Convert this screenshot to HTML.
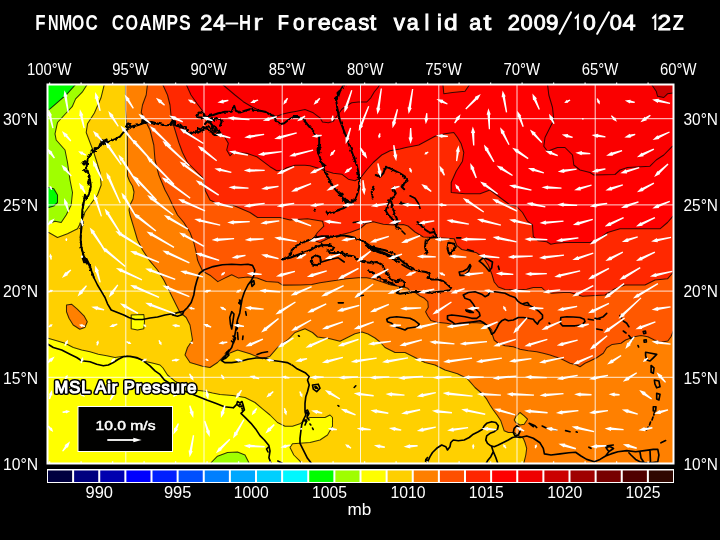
<!DOCTYPE html><html><head><meta charset="utf-8"><title>FNMOC COAMPS</title>
<style>html,body{margin:0;padding:0;background:#000;overflow:hidden}svg{display:block}text{font-family:"Liberation Sans",sans-serif;fill:#fff}</style></head><body>
<svg width="720" height="540" viewBox="0 0 720 540">
<rect width="720" height="540" fill="#000"/>
<defs><clipPath id="mc"><rect x="47" y="84" width="627" height="380"/></clipPath></defs>
<g clip-path="url(#mc)">
<rect x="40" y="60" width="660" height="420" fill="#a0ff00"/>
<path d="M76.1 84.0 66.7 94.4 57.8 102.2 50.0 108.9 40.0 114.0 40.0 60.0 76.0 60.0Z" fill="#00ff00" stroke="#000" stroke-opacity="0.78" stroke-width="1.05" stroke-linejoin="round"/>
<path d="M40.0 187.0 48.8 187.5 53.8 188.8 57.5 195.0 57.5 202.5 53.8 206.0 48.8 207.5 40.0 208.0Z" fill="#00ff00" stroke="#000" stroke-opacity="0.78" stroke-width="1.05" stroke-linejoin="round"/>
<path d="M87.5 84.0 82.2 92.2 75.6 98.9 72.2 106.7 66.2 113.0 57.5 122.5 55.0 133.8 56.2 140.0 65.0 150.0 67.5 162.5 70.0 180.0 72.5 192.5 71.2 205.0 66.2 215.0 61.2 222.5 55.0 221.2 48.8 223.8 40.0 224.0 40.0 480.0 700.0 480.0 700.0 60.0 87.5 60.0Z" fill="#ffff00" stroke="#000" stroke-opacity="0.78" stroke-width="1.05" stroke-linejoin="round"/>
<path d="M104.4 84.0 101.0 97.8 94.4 113.0 87.5 123.8 86.2 132.5 90.0 142.5 93.8 152.5 96.2 160.0 100.0 172.5 101.2 185.0 97.5 195.0 90.0 205.0 85.0 212.0 82.0 220.0 77.5 228.8 67.5 233.8 57.5 237.5 48.8 232.5 40.0 232.0 40.0 338.0 48.0 338.3 56.7 340.8 65.0 343.3 73.3 347.5 81.7 350.0 90.0 351.7 98.3 354.2 106.7 355.8 115.0 357.5 120.0 356.7 126.7 355.8 133.3 357.5 140.0 359.2 146.7 361.7 153.3 363.3 160.0 365.0 163.0 368.0 167.5 375.0 175.0 381.2 185.0 386.2 195.0 390.0 205.0 391.2 212.5 393.0 220.0 394.5 232.5 395.5 245.0 397.5 255.0 402.5 262.5 408.8 270.0 415.0 277.5 422.5 285.0 426.2 292.5 426.2 300.0 423.8 305.0 420.0 310.0 417.5 325.0 417.5 330.0 415.0 332.5 417.5 332.5 426.2 327.5 435.0 320.0 440.0 310.0 442.5 292.5 443.8 290.0 447.5 293.8 455.0 300.0 461.2 305.0 470.0 700.0 480.0 700.0 60.0 104.0 60.0Z" fill="#ffd000" stroke="#000" stroke-opacity="0.78" stroke-width="1.05" stroke-linejoin="round"/>
<path d="M125.5 84.0 125.5 110.0 127.3 130.0 127.5 176.0 129.5 181.0 132.5 186.0 134.0 192.0 133.0 199.0 130.0 205.0 129.0 210.0 130.0 215.0 133.8 227.5 137.5 240.0 142.5 250.0 150.0 261.2 157.5 270.0 163.8 280.0 168.8 290.0 172.5 297.5 176.2 305.0 180.0 312.5 186.2 317.5 190.0 325.0 191.2 332.0 192.5 340.0 187.5 347.5 185.0 355.0 190.0 362.5 202.5 366.2 210.0 367.5 217.5 362.5 225.0 355.0 237.5 350.0 250.0 353.8 262.5 358.8 270.0 356.2 277.5 347.5 287.5 340.0 295.0 332.5 305.0 328.8 312.5 332.5 317.5 337.0 330.0 338.8 340.0 341.2 347.5 337.5 355.0 333.8 362.0 332.0 368.0 334.0 375.0 338.0 380.0 342.0 385.0 347.5 395.0 352.5 405.0 352.5 415.0 357.5 425.0 362.5 435.0 365.0 445.0 370.0 457.5 373.8 467.5 378.8 475.0 387.5 482.5 394.0 486.7 399.2 490.0 405.0 493.3 410.0 497.5 415.8 500.8 420.8 502.5 425.8 504.2 430.8 508.3 432.5 514.0 432.5 519.0 436.0 523.3 438.3 525.0 442.5 526.7 448.3 525.8 455.0 524.2 461.7 522.5 470.0 700.0 480.0 700.0 60.0 126.0 60.0Z" fill="#ff8000" stroke="#000" stroke-opacity="0.78" stroke-width="1.05" stroke-linejoin="round"/>
<path d="M147.5 84.0 146.2 95.0 142.5 105.0 141.2 112.5 145.0 120.0 150.0 130.0 153.8 145.0 155.0 160.0 158.8 175.0 165.0 190.0 168.8 197.0 172.5 205.0 177.5 215.0 183.8 222.5 190.0 232.5 193.8 242.5 196.2 252.5 197.5 260.0 199.3 264.3 202.7 271.2 210.8 275.8 217.8 281.6 224.7 278.1 231.7 274.7 238.6 278.1 247.9 277.0 257.1 278.1 266.4 281.6 278.0 282.3 282.6 285.1 300.0 285.0 311.7 284.5 320.0 282.8 330.0 281.2 336.7 280.3 346.7 278.7 358.3 277.8 366.7 277.8 373.3 278.9 377.8 280.6 384.4 282.8 391.0 285.0 396.7 286.0 404.4 287.2 407.8 288.3 410.0 291.0 415.6 292.8 420.0 296.0 424.4 298.3 427.8 301.7 428.3 307.2 425.6 311.7 427.8 316.0 431.0 320.6 436.7 322.2 446.7 323.3 455.0 325.0 463.3 324.2 473.3 322.5 483.3 323.3 488.3 325.8 491.7 330.0 492.5 335.0 494.2 340.0 498.3 343.3 505.0 345.8 513.3 346.7 520.0 349.2 528.3 350.8 536.7 351.7 543.3 353.3 550.0 355.0 555.0 356.7 560.0 358.3 565.0 360.8 570.0 363.3 576.7 365.0 580.0 366.7 585.0 363.3 590.0 361.0 596.7 357.8 603.3 353.3 606.7 347.8 612.2 344.4 621.0 343.3 625.6 340.0 634.4 336.7 641.0 335.5 647.8 336.7 654.4 340.0 661.0 342.2 667.8 341.0 671.0 336.7 673.3 331.0 700.0 331.0 700.0 60.0 147.0 60.0Z" fill="#ff5800" stroke="#000" stroke-opacity="0.78" stroke-width="1.05" stroke-linejoin="round"/>
<path d="M162.5 84.0 167.5 95.0 170.0 105.0 171.2 117.5 175.0 130.0 178.8 142.5 182.5 152.5 187.5 162.5 197.5 172.5 203.8 178.8 205.0 190.0 210.0 200.0 220.0 205.0 232.5 205.0 250.0 212.5 257.5 217.5 280.0 217.5 290.0 220.0 307.5 218.8 322.5 221.2 323.8 226.2 317.5 232.5 312.5 240.0 320.0 242.5 330.0 237.5 340.0 235.0 350.0 232.5 360.0 228.8 366.0 223.5 373.3 221.7 383.3 224.2 393.3 225.0 403.3 224.5 408.0 226.0 415.0 232.0 423.3 237.0 438.3 237.8 454.2 238.7 456.7 245.3 461.7 249.5 470.0 251.2 476.7 252.8 483.3 257.8 488.3 265.3 491.7 273.7 494.2 282.0 498.3 287.0 505.0 289.5 516.7 290.0 526.7 289.2 533.3 287.5 541.7 287.5 545.0 290.8 551.7 293.3 563.3 292.5 570.0 292.5 582.5 296.2 605.0 295.0 615.0 288.8 625.0 285.0 645.0 285.0 655.0 280.0 667.5 278.8 673.0 272.5 700.0 272.0 700.0 60.0 162.0 60.0Z" fill="#ff2800" stroke="#000" stroke-opacity="0.78" stroke-width="1.05" stroke-linejoin="round"/>
<path d="M186.0 84.0 191.0 95.0 197.0 103.5 203.0 111.5 207.0 118.0 213.0 125.0 220.0 132.0 224.0 136.0 228.3 143.3 226.7 150.0 230.0 155.8 233.3 152.5 246.7 153.3 256.7 156.7 263.3 161.7 270.0 166.7 276.7 170.8 283.3 170.0 286.7 167.8 295.0 165.3 305.0 165.3 310.0 165.8 318.3 168.3 325.0 170.8 333.3 173.3 341.7 174.2 348.3 179.2 355.0 180.8 360.8 177.5 366.7 170.0 373.3 162.5 381.7 155.0 390.0 150.8 400.0 149.0 406.0 147.5 418.8 145.0 435.0 136.2 445.0 133.8 453.8 132.5 457.5 137.5 461.2 143.8 463.8 152.5 462.5 161.2 456.2 171.2 451.2 182.5 451.2 192.5 465.0 193.8 480.0 193.8 490.0 190.0 500.0 197.5 510.0 205.0 516.2 206.0 522.5 212.5 527.5 221.2 532.5 225.0 532.8 230.0 533.3 236.7 538.3 240.8 546.7 241.7 550.8 244.2 555.8 243.3 565.0 242.5 590.0 242.5 597.5 240.0 607.5 232.5 620.0 228.8 640.0 228.8 660.0 228.8 667.5 222.5 673.0 216.2 700.0 216.0 700.0 60.0 186.0 60.0Z" fill="#ff0000" stroke="#000" stroke-opacity="0.78" stroke-width="1.05" stroke-linejoin="round"/>
<path d="M222.0 84.0 235.0 95.0 243.3 101.7 251.7 106.7 258.3 110.0 268.0 113.0 276.0 116.5 283.0 114.0 288.3 112.8 296.7 111.2 305.0 109.5 313.3 112.8 320.0 117.8 322.5 122.0 328.3 122.8 333.3 121.2 337.5 115.3 341.7 109.5 345.8 106.2 351.7 102.8 358.3 102.0 366.7 102.0 370.8 97.8 374.2 92.0 378.3 87.0 380.0 84.0 379.0 60.0 220.0 60.0Z" fill="#fa0000" stroke="#000" stroke-opacity="0.78" stroke-width="1.05" stroke-linejoin="round"/>
<path d="M547.5 84.0 548.8 95.0 552.5 107.5 553.8 120.0 550.0 127.5 545.0 137.5 543.8 146.2 547.5 151.2 557.5 147.5 565.0 147.5 572.5 155.0 573.8 165.0 580.0 170.0 590.0 172.5 593.8 175.0 615.0 174.5 620.0 170.0 627.5 167.5 650.0 166.2 656.2 160.0 663.8 155.0 672.5 146.2 700.0 146.0 700.0 60.0 547.0 60.0Z" fill="#fa0000" stroke="#000" stroke-opacity="0.78" stroke-width="1.05" stroke-linejoin="round"/>
<path d="M651.2 84.0 656.2 91.2 657.5 96.2 663.8 97.5 667.5 93.8 673.0 93.0 700.0 93.0 700.0 60.0 651.0 60.0Z" fill="#cc0000" stroke="#000" stroke-opacity="0.78" stroke-width="1.05" stroke-linejoin="round"/>
<path d="M442.5 80.0 443.8 93.8 452.5 92.5 465.0 91.2 470.0 84.0 470.0 80.0Z" fill="#ff2800" stroke="#000" stroke-opacity="0.78" stroke-width="1.05" stroke-linejoin="round"/>
<path d="M66.5 305.0 71.5 304.2 77.3 309.2 84.0 315.8 87.3 321.7 84.8 327.5 79.8 329.2 73.2 325.0 69.0 318.3 66.5 311.7Z" fill="#ff8000" stroke="#000" stroke-opacity="0.78" stroke-width="1.05" stroke-linejoin="round"/>
<path d="M131.2 315.0 143.8 314.5 144.5 321.2 143.8 328.8 137.5 330.0 131.2 328.8Z" fill="#ffff00" stroke="#000" stroke-opacity="0.78" stroke-width="1.05" stroke-linejoin="round"/>
<path d="M211.2 470.0 211.2 462.5 217.5 456.2 227.5 452.5 237.5 452.0 245.0 455.0 248.8 462.5 249.0 470.0Z" fill="#a0ff00" stroke="#000" stroke-opacity="0.78" stroke-width="1.05" stroke-linejoin="round"/>
<path d="M515.8 416.7 520.0 412.5 524.2 415.8 527.5 419.2 524.2 424.2 520.0 425.0 515.8 422.5 514.2 420.0Z" fill="#ffd000" stroke="#000" stroke-opacity="0.78" stroke-width="1.05" stroke-linejoin="round"/>
<path d="M125.8 84V464M204.0 84V464M282.2 84V464M360.5 84V464M438.8 84V464M517.0 84V464M595.2 84V464M47 377.3H674M47 291.1H674M47 204.9H674M47 118.7H674" stroke="#fff" stroke-width="1" fill="none" opacity="0.85"/>
<defs><filter id="jag" x="-2%" y="-2%" width="104%" height="104%"><feTurbulence type="fractalNoise" baseFrequency="0.22" numOctaves="2" seed="7" result="n"/><feDisplacementMap in="SourceGraphic" in2="n" scale="3.2" xChannelSelector="R" yChannelSelector="G"/></filter><filter id="jag2" x="-2%" y="-2%" width="104%" height="104%"><feTurbulence type="fractalNoise" baseFrequency="0.3" numOctaves="1" seed="3" result="n"/><feDisplacementMap in="SourceGraphic" in2="n" scale="1.6" xChannelSelector="R" yChannelSelector="G"/></filter></defs><g filter="url(#jag2)"><path d="M410.0 195.8L415.0 198.3L418.3 203.3L420.0 208.3M402.0 231.0L405.0 234.0M456.7 237.8L460.8 237.8M467.5 249.5L473.3 251.2M459.2 272.0L463.3 271.2L467.5 268.7L470.0 264.5L470.8 266.2L468.3 272.0L464.2 275.3L460.0 275.3ZM479.2 261.2L483.3 257.8L488.3 259.5L492.5 262.0L491.7 267.8L489.2 271.2L485.8 267.0L482.5 263.7ZM498.3 266.2L499.2 269.5M353.3 222.5L358.3 221.7L363.3 223.3M402.0 264.5L407.0 267.5L412.0 270.0M321.7 262.0L330.0 259.5L338.3 257.8L344.2 262.0M338.3 302.8L343.3 302.8M358.3 296.2L363.3 295.3M386.7 319.2L390.0 317.5L396.7 316.7L403.3 317.5L410.0 318.3L415.0 320.8L419.2 324.2L417.5 326.7L412.5 327.5L407.5 328.3L405.0 330.0L400.0 328.3L395.0 326.7L391.7 323.3L387.5 321.7ZM463.3 295.0L468.3 292.5L475.0 291.7L481.7 294.2L485.0 296.7L488.3 295.0L490.0 291.7L495.0 291.7L500.0 292.5L505.0 293.3L510.0 295.8L515.0 297.5L517.5 300.8L520.8 303.3L525.0 305.0L530.0 305.8L535.0 308.3L539.2 311.7L542.5 315.0L542.5 318.3L539.2 320.8L537.5 324.2L535.0 321.7L533.3 319.2L528.3 318.3L523.3 317.5L518.3 317.5L513.3 320.0L508.3 320.8L505.0 319.2L501.7 320.8L499.2 323.3L496.7 328.3L494.2 332.5L491.7 334.2L490.0 330.0L487.5 325.8L483.3 322.5L480.0 320.8L473.3 321.7L466.7 322.5L460.0 323.3L455.0 324.2L451.7 321.7L447.5 319.2L447.5 315.8L451.7 315.0L458.3 315.8L465.0 316.7L471.7 318.3L476.7 318.3L480.0 315.8L479.2 312.5L475.8 309.2L473.3 304.2L470.0 300.0L465.0 298.3L463.3 295.0M465.8 310.0L470.0 310.8L473.3 312.5L470.0 312.5L466.7 311.3ZM523.5 303.5L527.5 302.5L529.0 304.5M560.8 317.5L566.7 316.7L573.3 317.0L580.0 317.5L584.2 319.2L585.0 321.7L581.7 325.0L575.0 325.8L568.3 325.8L562.5 325.8L560.3 323.3ZM549.0 323.0L549.8 323.6M588.3 319.2L593.3 320.0M595.0 318.3L600.0 319.2M596.7 319.0L603.3 316.7L606.7 313.3M596.7 329.0L602.2 330.0M620.0 315.5L621.5 318.0M623.3 321.0L626.7 323.3L628.9 326.7M623.3 331.0L626.0 333.0M628.9 335.5L632.2 340.0M643.2 331.5L645.4 331.0L645.8 333.2L643.8 333.6ZM644.0 340.0L646.2 339.8L646.4 342.0L644.2 342.2ZM638.0 345.5L638.6 347.0M645.6 352.2L651.1 353.3L656.7 354.4L653.3 357.8L650.0 361.0L646.7 360.0L645.6 355.5ZM651.1 365.5L654.0 367.8L653.3 373.3L651.1 372.2ZM654.4 380.0L658.9 381.0L660.0 386.7L656.7 387.8L654.9 384.0ZM656.7 393.3L660.0 394.4L658.9 400.0L656.7 399.0ZM653.3 406.7L656.0 406.7L655.6 411.0L653.3 411.0ZM654.4 412.5L653.8 415.0M653.0 417.0L652.0 420.0M650.5 422.0L649.5 425.0M648.0 427.0L646.5 430.0M661.0 442.8L665.6 440.6M520.0 437.5L526.7 436.0L533.3 438.3L540.0 442.8L543.3 448.3L544.4 453.9L551.0 455.0L560.0 453.9L568.9 452.8L575.6 452.3L581.0 456.0L586.7 459.4L594.4 461.7L600.0 459.4L605.6 456.0L611.0 453.9L617.8 451.7L626.7 450.6L635.6 451.7L644.4 450.6L653.3 449.4L657.8 449.4L658.9 455.0L657.8 461.7L651.0 462.8L644.4 462.8L640.0 461.7L635.6 459.4L631.0 455.0L628.9 452.8M605.6 456.0L609.0 451.5L613.5 448.5L610.0 446.5L606.0 447.5L608.0 450.5M605.6 446.0L613.3 445.0M640.0 452.0L641.0 458.0L644.0 462.5M650.0 450.5L650.5 462.0M530.0 424.0L533.3 426.7M542.2 426.0L546.7 428.3M553.3 429.4L556.0 430.0M565.6 430.6L570.0 431.7M576.2 431.8L577.2 432.2M588.9 447.2L591.0 448.3M529.2 423.3L535.0 425.8L536.7 427.5M426.7 464.0L430.0 456.7L432.5 452.5L436.7 448.3L441.7 445.0L445.8 446.7L447.5 450.0L450.0 446.7L450.8 442.5L453.3 440.0L458.3 440.8L464.2 440.0L469.2 437.5L473.3 434.2L478.3 431.7L482.5 429.2L484.2 425.8L486.7 423.3L491.7 421.7L495.8 422.5L498.3 425.8L497.5 429.2L494.2 431.7L490.0 433.3L486.7 435.8L485.8 440.0L487.5 443.3L490.8 445.8L494.2 446.7L498.3 445.0L503.3 442.5L508.3 440.0L512.5 437.5L515.8 436.7L520.0 437.5M491.7 446.7L493.3 451.7L490.8 456.7L487.5 460.8L485.8 464.2M493.3 451.7L495.8 457.5L497.5 462.5M513.3 432.5L514.2 428.3L516.7 425.8L519.2 427.5L520.0 431.7L518.3 435.0L515.0 435.8ZM428.0 461.0L426.0 459.5L427.5 457.5M85.0 195.0L83.8 201.2L82.5 210.0L82.0 220.0L81.2 230.0L80.5 240.0L82.0 250.0L84.5 258.8L88.8 263.8L91.2 270.0L93.8 277.5L97.5 285.0L101.2 291.2L105.0 297.5L107.5 303.8L111.2 310.0L117.5 312.5L123.8 315.0L128.8 317.5L135.0 319.5L142.5 319.5L150.0 318.0L157.5 317.0L165.0 315.0L172.5 313.8L178.8 312.5L183.8 311.2L187.5 307.5L191.2 302.5L193.8 295.0L195.0 287.5L196.9 280.5L199.3 273.5L203.9 270.0L213.1 266.6L222.4 264.7L231.7 264.3L240.9 264.7L247.9 264.3L252.5 265.4L254.8 270.0L253.7 275.8L251.3 280.5L247.9 285.0L244.4 292.0L242.1 299.0L240.9 305.9L239.8 312.9L237.5 319.8L236.3 326.8L235.1 333.7L234.0 340.6L231.7 347.6L228.2 352.2L224.7 356.9L221.3 360.3L224.7 362.6L231.7 362.6L239.8 361.5L247.9 359.2L256.0 358.0L264.1 358.0L271.0 360.3L280.3 361.5L287.2 362.6L291.9 364.9L296.5 368.4L301.1 370.7L305.7 373.1L309.2 376.5L307.5 380.0L309.2 385.0L307.5 391.7L305.8 396.7L305.0 403.3L305.0 410.0L305.8 415.0L303.3 420.0L301.7 425.0L300.8 431.7L300.0 438.3L300.0 443.3L302.5 448.3L305.0 453.3L307.5 458.3L310.8 462.5L313.0 465.0M82.5 258.0L84.0 262.5L87.5 262.0L84.5 258.8M172.5 315.0L177.5 312.5L183.8 311.2L182.5 314.5L177.5 316.2ZM251.3 282.8L253.7 280.5L254.4 283.9L252.0 286.3ZM231.7 311.7L234.0 314.0L232.8 322.0L231.7 329.0L230.5 324.4L229.8 317.5ZM245.6 311.7L246.3 315.2M237.5 332.5L238.1 339.5M243.0 336.0L242.6 339.5M239.5 300.0L241.5 301.5L240.5 304.5L238.8 303.0M237.0 322.0L238.5 326.0L236.5 330.0M233.0 336.0L235.5 338.0L233.5 343.0L231.5 341.0M257.1 354.5L261.8 352.7L267.5 351.8M298.5 335.7L299.3 336.2M221.3 360.3L226.0 358.0L229.0 355.0L226.0 353.0L229.0 350.0M312.5 385.0L318.3 384.2L320.0 388.3L316.7 391.7L313.3 389.2ZM315.0 386.5L317.5 388.5M338.0 405.5L338.8 406.2M354.2 387.5L355.8 385.8M305.0 412.0L307.5 410.0L309.0 413.5L307.0 417.0L309.0 420.0M304.0 420.0L306.5 421.5L305.0 425.0M310.0 424.0L310.8 425.0M312.5 428.0L313.2 429.5M40.0 340.0L48.0 344.2L53.3 347.5L61.7 350.0L70.0 354.2L76.7 357.5L81.7 360.8L90.0 361.7L96.7 364.2L103.3 365.8L108.3 365.0L113.3 362.5L118.3 359.2L123.3 356.7L130.0 356.3L136.7 357.5L143.3 360.8L150.0 365.8L155.0 370.8L160.0 374.4L164.4 380.0L173.3 385.6L184.4 391.0L195.6 395.6L206.7 400.0L215.6 403.3L224.4 406.7L233.3 407.8L236.7 404.4L240.0 406.7L243.3 405.6L244.4 410.0L241.0 413.3L245.6 417.8L251.0 423.3L255.6 428.9L260.0 435.6L264.4 440.0L268.9 445.6L270.0 451.0L268.9 457.8L271.0 463.3L272.0 466.0M236.7 404.4L237.5 401.5L240.0 403.0L242.0 401.5L243.3 405.6M277.8 461.0L282.2 463.3L284.0 466.0M268.5 447.0L266.5 449.0L268.0 452.0" fill="none" stroke="#000" stroke-width="1.65" stroke-linejoin="round" stroke-linecap="round"/></g><g filter="url(#jag)"><path d="M86.7 199.2L89.2 193.3L90.8 186.7L90.0 180.0L88.3 173.3L86.7 166.7L87.5 160.0L90.0 155.0L93.3 150.8L98.3 147.5L103.3 144.2L109.2 141.7L115.0 139.2L120.0 136.7L123.3 132.5L126.7 129.2L131.7 126.7L138.3 125.0L145.0 122.5L151.7 122.0L158.3 123.7L165.0 125.3L170.0 125.0L173.3 124.2L178.3 126.7L183.3 129.2L189.2 134.2L194.2 133.3L197.5 132.5L201.7 130.8L205.0 129.2L208.3 130.0L211.7 130.8L214.2 135.0L217.5 135.0L220.0 132.5L215.8 128.3L212.5 125.8L210.0 122.5L211.7 120.0L215.8 118.3L220.0 119.2L221.7 121.7L220.0 125.8M126.5 127.0L128.0 123.5L131.0 124.5L129.5 127.5M142.0 123.0L142.5 119.5L144.5 120.0L144.0 123.0M99.0 147.0L100.5 143.5L103.0 144.5M104.0 143.5L105.5 140.5L107.5 142.0M91.5 153.0L93.5 149.5L95.0 151.5M84.0 165.5L82.5 162.5L85.0 161.0L86.5 164.0M86.0 172.0L84.0 170.0L85.5 168.0M170.0 124.5L172.0 121.5L175.0 122.5L176.5 125.5L180.0 124.5L183.0 127.5L186.0 127.0L188.0 130.0M196.0 131.0L198.0 128.5L201.0 129.5L203.0 127.0L206.0 128.0L208.0 126.0L210.0 127.5M205.0 124.0L207.5 121.0L210.0 122.5M206.0 118.0L209.0 120.0L212.0 118.0L214.0 121.0M197.3 115.0L198.5 112.8L201.5 112.5L204.0 114.0L204.0 116.5L201.5 117.6L198.5 117.2ZM205.0 117.5L209.0 116.0L213.3 115.0L218.3 113.3L225.0 111.7L231.7 111.7L234.2 105.8L235.8 110.8L240.0 112.5L245.0 110.8L250.0 109.2L255.0 110.8L260.0 110.8L265.0 111.7L269.2 114.2L273.3 115.8L275.8 120.0L280.0 124.2L284.2 123.3L288.3 120.0L293.3 117.0L298.3 117.0L303.3 119.5L307.5 124.5L311.7 129.5L315.8 133.7L319.2 137.0L319.2 143.7L317.5 150.3L319.2 155.3L320.8 160.3L323.3 166.7L325.0 171.7L327.5 176.7L330.0 180.8L332.5 185.8L335.8 190.0L340.0 194.2L343.3 198.3L345.8 202.5L348.3 205.0L351.7 203.3L355.0 199.2L357.5 193.3L359.2 186.7L359.2 179.2L358.3 171.7L356.7 165.0L354.2 158.3L351.7 151.7L349.2 145.3L347.5 139.5L345.0 133.7L342.5 127.0L340.0 120.3L338.3 113.7L337.5 108.7L336.7 103.7L335.8 98.7L338.3 96.2L340.0 91.2L342.5 87.0L345.8 83.0M336.0 100.0L338.5 97.5L337.5 93.0L340.0 90.5M318.0 146.0L320.5 147.5L318.5 150.0L320.5 152.5L318.5 154.0M322.0 163.0L324.5 165.0L323.0 168.5M343.0 198.0L345.5 199.5L347.5 203.0L350.5 202.0M340.0 195.5L343.5 197.0M347.5 205.8L343.3 208.3L338.3 210.0L333.3 211.7L328.3 213.3L326.7 212.5M314.5 210.5L315.5 211.2M375.8 175.0L380.0 176.7L383.3 173.3L385.8 166.7L390.0 168.3L395.0 170.8L400.0 173.3L405.0 176.7L407.5 180.8L404.2 183.3L401.7 186.7L404.2 189.2M390.0 200.0L387.5 205.0L385.8 210.8L388.3 215.0L391.7 218.3L394.2 223.3L396.7 227.5L398.3 223.3L396.7 218.3L394.2 213.3L392.5 206.7L390.8 200.0ZM373.3 186.7L372.2 189.0M371.7 191.7L372.0 194.5M372.5 196.5L372.8 198.5M393.3 188.3L395.8 193.3L393.3 196.7L390.8 198.3M400.0 203.3L406.7 204.2L411.7 205.0M417.5 222.0L420.8 225.3L425.0 229.5L430.0 232.8L434.2 232.0L433.3 228.7L435.0 233.7L438.3 237.8L440.8 240.3M435.8 237.0L430.0 237.8L425.8 241.2L425.0 247.0L426.7 253.7M393.3 223.7L397.5 227.0L400.0 228.7M448.3 242.8L454.2 243.7L455.8 247.0L452.5 251.2L449.2 254.5L447.5 248.7ZM282.5 259.5L286.7 257.0L290.8 254.5L291.7 250.3L295.8 246.2L301.7 242.8L308.3 240.3L315.0 237.8L321.7 236.2L328.3 236.2L335.0 237.0L341.7 235.3L348.3 236.2L355.0 237.8L361.7 240.3L366.7 243.7L371.7 247.0L378.3 248.7L385.0 250.3L390.0 252.0L395.0 254.5L400.0 259.5L405.0 263.7L410.0 267.0L415.0 269.5L420.8 271.2L425.8 272.0L430.0 273.7L427.5 277.8L431.7 279.5L438.3 279.5L443.3 281.2L447.5 284.5L450.8 287.8L449.2 290.3L443.3 291.2L436.7 292.0L430.0 292.8L423.3 292.0L415.0 292.0L406.7 292.8L400.0 293.7L396.7 292.8L400.0 288.7L404.2 286.2L405.0 282.8L401.7 280.3L396.7 281.2L392.0 280.0L388.0 275.0L384.2 268.7L381.7 264.5L376.7 262.0L370.0 262.8L363.3 262.0L358.3 259.5L353.3 256.2L346.7 255.3L342.5 252.8L336.7 253.3L330.0 252.8L327.5 250.3L332.5 250.0L334.2 247.0L329.2 245.0L321.7 245.3L315.8 247.0L310.0 250.3L303.3 252.8L296.7 255.3L290.0 257.8L282.5 259.5M368.3 270.3L375.0 275.3L381.7 279.5L390.0 282.8L396.7 285.3M372.0 249.0L378.0 252.0L385.0 254.0L391.0 257.0L396.0 261.0M366.0 245.5L371.0 248.5L377.0 250.5L383.0 252.5L389.0 255.0L394.0 258.5L399.0 262.0M311.7 257.8L315.8 255.3L320.0 257.0L320.8 262.0L317.5 265.3L312.5 264.5L310.8 261.2ZM85.0 195.0L86.7 199.2M85.0 195.0L83.8 201.2L82.5 210.0L82.0 220.0L81.2 230.0L80.5 240.0L82.0 250.0L84.5 258.8L88.8 263.8L91.2 270.0L93.8 277.5M84.0 256.0L86.5 259.0L88.5 263.0L86.0 262.5L84.5 259.5" fill="none" stroke="#000" stroke-width="2.0" stroke-linejoin="round" stroke-linecap="round"/><g fill="#000"><circle cx="85.5" cy="260" r="1.8"/><circle cx="87.5" cy="263" r="1.5"/><circle cx="83" cy="205" r="1.3"/><circle cx="102.5" cy="141.5" r="2.2"/><circle cx="106" cy="140" r="1.8"/><circle cx="92.5" cy="151" r="2.0"/><circle cx="96" cy="148.5" r="1.6"/><circle cx="84.2" cy="164.2" r="2.0"/><circle cx="86" cy="197.5" r="2.0"/><circle cx="128.5" cy="124.5" r="1.8"/><circle cx="143.3" cy="120.8" r="1.5"/><circle cx="89" cy="176" r="1.6"/><circle cx="88.5" cy="183" r="1.5"/><circle cx="90" cy="190" r="1.4"/><circle cx="186" cy="131.5" r="2.0"/><circle cx="191" cy="133.5" r="2.0"/><circle cx="196" cy="132" r="1.6"/><circle cx="212" cy="128" r="2.0"/><circle cx="215" cy="131" r="2.0"/><circle cx="218" cy="133.5" r="1.8"/><circle cx="209" cy="122" r="1.6"/><circle cx="213" cy="119.5" r="1.5"/><circle cx="319" cy="147" r="1.8"/><circle cx="319" cy="153" r="1.8"/><circle cx="321.5" cy="161" r="1.5"/><circle cx="344" cy="198.5" r="2.2"/><circle cx="347" cy="202" r="2.4"/><circle cx="350" cy="203.5" r="2.0"/><circle cx="341" cy="195" r="1.6"/><circle cx="352" cy="200.5" r="1.6"/><circle cx="380" cy="176" r="1.6"/><circle cx="385" cy="168.5" r="1.6"/><circle cx="405" cy="178" r="1.6"/><circle cx="403" cy="185" r="1.5"/><circle cx="392" cy="206" r="1.5"/><circle cx="395" cy="221" r="1.6"/><circle cx="396.5" cy="225.5" r="1.5"/><circle cx="372" cy="272.5" r="1.6"/><circle cx="375" cy="250.5" r="1.5"/><circle cx="381" cy="252.5" r="1.5"/><circle cx="388" cy="255.5" r="1.6"/><circle cx="393" cy="258.5" r="1.5"/><circle cx="378" cy="277" r="1.8"/><circle cx="385" cy="281" r="1.8"/><circle cx="392" cy="283.5" r="1.6"/><circle cx="398" cy="258" r="1.4"/><circle cx="404" cy="262" r="1.4"/><circle cx="316" cy="246.5" r="1.4"/><circle cx="322" cy="245" r="1.4"/><circle cx="290" cy="254" r="1.5"/><circle cx="239.5" cy="302" r="1.4"/><circle cx="237.5" cy="325" r="1.4"/><circle cx="234" cy="339" r="1.5"/><circle cx="224" cy="358" r="1.6"/><circle cx="227" cy="354" r="1.4"/><circle cx="307" cy="414" r="1.5"/><circle cx="306" cy="421" r="1.5"/><circle cx="316" cy="387.5" r="1.6"/><circle cx="240" cy="405" r="1.6"/><circle cx="242.5" cy="408.5" r="1.4"/><circle cx="426" cy="460" r="1.3"/></g></g>
<path d="M68.9 112.6L66.8 96.4L67.6 96.3L64.5 90.2L63.5 97.0L64.3 96.8L67.6 112.8ZM100.8 110.7L98.0 98.0L98.9 97.8L95.2 92.1L94.8 98.9L95.6 98.7L99.5 111.0ZM133.9 108.0L129.1 99.4L129.8 98.9L124.6 94.6L126.3 101.2L127.0 100.7L132.8 108.7ZM165.0 104.7L161.5 100.9L162.0 100.3L155.9 97.7L159.3 103.4L159.9 102.8L164.2 105.7ZM195.6 102.8L192.4 100.7L192.7 100.1L187.8 99.6L191.1 103.2L191.5 102.6L195.0 103.9ZM228.2 99.8L223.2 100.2L223.0 99.4L217.4 102.5L223.8 103.4L223.6 102.5L228.5 101.1ZM257.9 99.4L254.2 100.3L253.9 99.6L250.2 103.0L255.2 103.0L254.9 102.3L258.4 100.6ZM287.0 97.7L284.8 100.6L284.2 100.2L283.3 104.8L287.1 102.1L286.5 101.7L288.1 98.4ZM319.4 97.8L316.3 100.4L315.7 99.9L313.6 104.7L318.4 102.4L317.9 101.9L320.3 98.7ZM351.2 90.0L345.2 106.1L344.4 105.9L344.3 112.7L348.3 107.2L347.5 106.9L352.4 90.4ZM380.7 88.4L377.1 107.8L376.3 107.7L377.4 114.5L380.4 108.4L379.6 108.2L382.0 88.6ZM412.0 88.9L408.4 107.3L407.6 107.2L408.6 114.0L411.8 107.9L410.9 107.7L413.3 89.1ZM447.7 103.4L442.9 100.5L443.2 99.7L436.4 99.0L441.5 103.6L441.9 102.8L447.2 104.6ZM466.2 109.4L477.0 99.4L477.6 100.0L480.8 94.0L474.7 97.1L475.3 97.7L465.3 108.5ZM507.2 112.3L504.9 96.6L505.8 96.5L502.6 90.5L501.6 97.2L502.5 97.1L505.9 112.6ZM539.9 109.2L536.1 98.9L536.9 98.6L532.4 93.5L533.0 100.3L533.8 99.9L538.8 109.7ZM569.9 99.4L567.0 100.4L566.7 99.8L564.2 103.0L568.2 102.8L567.9 102.2L570.4 100.5ZM596.6 98.7L597.4 101.5L596.8 101.8L599.7 104.5L599.8 100.5L599.2 100.8L597.8 98.2ZM634.9 101.8L630.5 100.4L630.6 99.7L624.8 100.5L629.9 103.5L630.0 102.7L634.6 103.1ZM670.2 102.8L658.7 99.6L658.9 98.8L652.1 99.5L657.9 102.9L658.1 102.1L669.9 104.1ZM53.6 127.9L51.2 115.4L52.0 115.2L48.5 109.3L47.9 116.1L48.8 115.9L52.3 128.2ZM84.8 127.9L82.5 115.4L83.4 115.2L79.9 109.3L79.3 116.1L80.1 115.9L83.5 128.2ZM118.8 126.1L112.9 115.7L113.6 115.3L108.3 111.0L110.1 117.6L110.8 117.1L117.8 126.8ZM151.3 123.2L144.2 116.8L144.7 116.1L138.4 113.7L142.1 119.4L142.6 118.7L150.4 124.2ZM183.0 121.2L175.5 117.1L175.8 116.4L169.0 115.6L174.1 120.2L174.4 119.4L182.5 122.4ZM212.9 120.1L208.2 117.7L208.5 117.0L201.7 116.7L207.0 120.8L207.3 120.1L212.5 121.3ZM249.6 119.1L234.1 117.0L234.2 116.2L227.5 117.7L233.8 120.4L233.9 119.5L249.4 120.3ZM276.6 116.1L268.7 117.7L268.5 116.9L262.8 120.7L269.6 120.9L269.4 120.1L277.0 117.3ZM304.8 115.6L300.9 117.5L300.5 116.9L297.1 121.2L302.5 120.0L302.1 119.4L305.4 116.8ZM332.3 115.6L331.5 118.2L330.9 118.1L331.9 121.7L334.0 118.7L333.4 118.6L333.5 115.8ZM368.1 106.0L360.0 124.7L359.2 124.4L358.7 131.2L363.1 125.9L362.3 125.6L369.3 106.4ZM396.9 109.0L392.9 121.6L392.1 121.4L392.5 128.2L396.2 122.4L395.4 122.2L398.1 109.4ZM426.2 113.1L425.2 118.0L424.3 118.0L425.8 124.2L428.4 118.3L427.5 118.3L427.4 113.3ZM455.1 123.6L458.3 119.8L459.0 120.3L460.6 114.2L455.6 118.0L456.3 118.5L454.1 122.8ZM490.0 129.2L490.0 114.6L490.8 114.6L488.4 108.2L486.6 114.8L487.5 114.8L488.8 129.2ZM523.8 126.5L520.7 116.3L521.4 116.0L517.2 110.7L517.5 117.5L518.3 117.2L522.6 126.9ZM554.6 123.4L552.8 118.7L553.6 118.3L549.0 113.7L549.9 120.1L550.7 119.7L553.4 124.0ZM582.0 117.9h1.6v1.6h-1.6ZM610.9 116.1L613.1 119.1L612.5 119.6L616.9 121.7L615.1 117.2L614.6 117.7L611.8 115.3ZM650.0 114.7L645.0 117.4L644.5 116.8L640.4 122.2L646.9 120.2L646.4 119.5L650.8 115.7ZM71.3 140.5L67.1 134.9L67.8 134.4L61.9 130.9L64.6 137.2L65.3 136.6L70.4 141.4ZM102.9 140.8L98.2 134.7L98.8 134.1L92.9 130.7L95.7 136.9L96.3 136.3L101.9 141.6ZM138.0 146.0L125.5 129.7L126.2 129.2L120.4 125.4L122.9 131.8L123.6 131.3L136.9 146.8ZM171.2 145.5L155.3 129.5L155.9 128.9L149.8 125.9L153.0 131.9L153.6 131.3L170.3 146.4ZM203.8 142.9L185.8 130.9L186.3 130.1L179.7 128.4L184.0 133.7L184.5 133.0L203.1 144.0ZM230.5 137.3L222.0 134.4L222.2 133.6L215.4 133.9L221.1 137.6L221.3 136.8L230.2 138.6ZM264.1 133.8L250.4 135.2L250.3 134.4L244.2 137.4L250.9 138.6L250.8 137.7L264.2 135.1ZM296.5 132.3L280.2 136.1L279.9 135.2L274.2 138.9L281.0 139.3L280.8 138.5L296.9 133.6ZM321.7 134.8L317.1 134.7L317.1 134.0L311.8 136.4L317.4 137.8L317.4 137.0L321.8 136.1ZM349.9 127.7L346.3 137.4L345.5 137.1L345.6 143.9L349.5 138.4L348.7 138.1L351.2 128.1ZM379.2 133.3L378.5 135.5L377.9 135.4L378.9 138.4L380.9 136.0L380.3 135.9L380.5 133.6ZM410.0 127.9L409.4 137.4L408.5 137.4L410.6 143.9L412.8 137.4L411.9 137.4L411.3 127.9ZM448.0 135.8L442.5 134.7L442.6 133.9L435.9 135.4L442.3 138.1L442.3 137.2L447.9 137.1ZM474.4 145.4L474.3 132.9L475.2 132.8L472.8 126.4L471.0 133.0L471.8 133.0L473.1 145.5ZM509.6 144.4L504.1 132.4L504.9 132.0L500.1 127.2L501.2 133.9L501.9 133.5L508.5 145.0ZM542.3 142.0L535.2 133.4L535.8 132.8L529.9 129.4L532.7 135.6L533.3 135.1L541.4 142.9ZM572.8 136.8L568.0 134.9L568.2 134.1L561.7 134.4L567.2 138.1L567.4 137.3L572.5 138.1ZM605.5 136.3L598.1 134.6L598.2 133.8L591.5 134.9L597.6 137.9L597.7 137.1L605.4 137.6ZM635.1 133.8L630.0 134.6L629.8 133.8L624.3 137.4L630.8 137.8L630.6 137.0L635.4 135.1ZM669.3 131.4L657.9 136.0L657.5 135.3L652.6 139.9L659.3 139.1L659.0 138.3L669.8 132.5ZM55.0 157.8L51.9 152.6L52.5 152.1L47.0 148.2L49.2 154.6L49.9 154.1L53.9 158.6ZM86.1 154.6L82.9 152.4L83.2 151.8L78.2 151.2L81.5 155.0L81.9 154.3L85.4 155.8ZM121.8 164.3L110.0 146.3L110.7 145.8L105.3 141.7L107.3 148.2L108.0 147.7L120.8 165.1ZM158.6 167.7L136.4 142.2L137.0 141.6L131.1 138.2L133.9 144.4L134.5 143.8L157.6 168.6ZM189.8 165.2L168.0 144.2L168.6 143.6L162.4 140.7L165.7 146.6L166.3 146.0L189.0 166.2ZM217.1 160.2L203.6 148.7L204.1 148.1L197.7 145.7L201.5 151.4L202.0 150.7L216.3 161.2ZM248.1 154.5L235.6 151.3L235.8 150.5L229.0 151.2L234.9 154.6L235.1 153.7L247.9 155.8ZM281.7 151.0L264.1 152.6L264.0 151.8L257.8 154.7L264.5 156.0L264.4 155.1L281.9 152.3ZM312.9 149.5L295.1 153.4L294.9 152.6L289.1 156.2L295.9 156.6L295.7 155.8L313.3 150.8ZM334.4 149.8L331.9 152.2L331.3 151.8L329.9 156.2L334.0 154.0L333.4 153.5L335.4 150.6ZM359.7 148.0L362.7 153.9L361.9 154.3L367.2 158.7L365.5 152.1L364.8 152.5L360.7 147.3ZM393.1 145.3L394.0 155.0L393.2 155.1L396.2 161.2L397.3 154.4L396.5 154.6L394.4 145.1ZM428.0 151.4L426.0 152.3L425.7 151.8L424.3 154.4L427.3 154.3L427.0 153.8L428.6 152.5ZM457.2 161.3L459.0 151.8L459.9 151.9L458.6 145.2L455.7 151.4L456.6 151.5L456.0 161.1ZM494.5 161.6L488.2 149.5L488.9 149.0L483.9 144.4L485.3 151.1L486.0 150.7L493.3 162.3ZM528.6 158.1L518.3 150.3L518.7 149.6L512.2 147.7L516.4 153.1L516.8 152.4L527.8 159.2ZM558.0 155.1L551.7 151.9L552.1 151.1L545.2 150.7L550.5 155.0L550.8 154.3L557.5 156.3ZM590.3 153.0L581.9 151.9L581.9 151.0L575.3 152.7L581.6 155.2L581.7 154.4L590.3 154.3ZM621.9 150.1L611.9 152.5L611.7 151.7L606.1 155.7L612.9 155.7L612.7 154.9L622.3 151.3ZM653.6 148.6L642.2 153.3L641.9 152.5L636.9 157.2L643.7 156.3L643.3 155.5L654.2 149.8ZM71.8 175.7L66.6 168.8L67.2 168.2L61.4 164.7L64.0 171.0L64.7 170.4L70.9 176.6ZM103.2 180.6L96.6 165.3L97.3 164.9L92.7 159.9L93.5 166.7L94.3 166.3L102.1 181.2ZM140.0 186.1L123.1 159.2L123.8 158.7L118.4 154.4L120.3 161.0L121.0 160.5L138.9 186.8ZM174.5 184.0L151.9 160.2L152.6 159.6L146.5 156.4L149.6 162.5L150.2 161.9L173.5 184.9ZM203.9 178.9L185.5 164.3L186.0 163.6L179.6 161.4L183.5 167.0L184.0 166.3L203.2 179.9ZM231.5 171.8L221.0 168.7L221.2 167.9L214.4 168.4L220.2 172.0L220.4 171.1L231.2 173.1ZM264.7 169.8L250.2 169.2L250.2 168.3L243.7 170.4L250.2 172.5L250.2 171.7L264.7 171.1ZM293.9 166.1L282.2 170.5L281.8 169.7L276.7 174.2L283.5 173.5L283.2 172.8L294.5 167.3ZM323.5 166.8L315.2 169.7L314.9 168.9L309.8 173.4L316.6 172.8L316.2 172.0L324.0 168.0ZM351.4 166.9L347.7 169.2L347.2 168.6L344.3 173.4L349.6 171.6L349.1 171.0L352.2 167.9ZM377.2 163.6L378.3 171.3L377.4 171.5L380.9 177.4L381.5 170.6L380.7 170.8L378.5 163.3ZM409.0 168.2L409.7 170.5L409.1 170.7L411.6 172.9L412.0 169.6L411.4 169.8L410.3 167.7ZM445.0 175.1L443.3 170.4L444.0 170.0L439.4 165.4L440.4 171.8L441.1 171.5L443.9 175.7ZM476.9 177.7L473.8 168.5L474.6 168.2L470.2 162.9L470.7 169.7L471.5 169.4L475.6 178.2ZM512.9 174.9L502.7 167.8L503.2 167.1L496.6 165.4L500.9 170.6L501.4 169.9L512.2 176.0ZM544.0 172.3L534.4 168.7L534.7 167.9L527.9 167.9L533.4 171.9L533.7 171.1L543.7 173.5ZM576.6 168.5L563.9 169.6L563.8 168.7L557.7 171.7L564.4 172.9L564.3 172.1L576.7 169.8ZM605.3 168.3L597.5 169.3L597.4 168.5L591.5 171.9L598.2 172.6L598.1 171.8L605.6 169.6ZM639.1 167.0L626.1 170.2L625.9 169.3L620.3 173.2L627.1 173.4L626.8 172.6L639.4 168.3ZM667.6 163.4L658.0 171.6L657.4 171.0L654.1 176.9L660.2 174.0L659.7 173.4L668.5 164.4ZM52.3 189.4L51.6 187.5L52.1 187.2L49.7 185.7L49.5 188.5L50.0 188.2L51.1 190.0ZM85.6 192.3L83.4 187.5L84.1 187.1L79.0 182.7L80.5 189.2L81.2 188.8L84.4 193.0ZM120.9 202.9L110.1 177.6L110.9 177.2L106.3 172.2L107.1 178.9L107.8 178.6L119.7 203.4ZM157.1 199.7L138.0 179.0L138.6 178.4L132.6 175.2L135.6 181.3L136.2 180.7L156.1 200.6ZM190.5 197.6L167.6 180.0L168.1 179.3L161.7 177.2L165.6 182.7L166.1 182.0L189.8 198.7ZM219.1 194.6L201.8 182.7L202.3 182.0L195.7 180.2L200.0 185.5L200.5 184.8L218.3 195.7ZM248.5 187.5L235.1 186.2L235.1 185.4L228.5 187.2L234.9 189.6L234.9 188.7L248.5 188.8ZM278.5 185.8L267.3 186.8L267.2 185.9L261.1 188.9L267.8 190.1L267.7 189.2L278.6 187.1ZM310.9 183.1L296.7 188.1L296.4 187.3L291.1 191.7L297.9 191.2L297.6 190.4L311.3 184.3ZM338.1 184.1L331.7 186.6L331.3 185.9L326.4 190.7L333.2 189.6L332.8 188.9L338.7 185.2ZM362.3 180.2L362.6 188.8L361.7 188.9L364.4 195.2L365.9 188.5L365.0 188.6L363.6 180.1ZM399.3 185.8L395.2 186.5L395.0 185.7L390.5 188.9L395.9 189.3L395.7 188.6L399.7 187.0ZM431.7 190.9L427.2 186.8L427.8 186.1L421.3 183.9L425.2 189.5L425.8 188.8L430.9 191.9ZM460.6 191.0L458.8 187.4L459.4 187.0L455.1 183.9L456.3 189.1L456.9 188.6L459.6 191.8ZM498.0 193.4L486.2 184.2L486.7 183.5L480.1 181.4L484.2 186.9L484.7 186.2L497.3 194.4ZM531.6 189.5L515.6 185.3L515.8 184.5L509.0 185.2L514.8 188.6L515.0 187.8L531.3 190.8ZM561.5 187.5L548.1 186.2L548.1 185.4L541.5 187.2L547.9 189.6L547.9 188.7L561.5 188.8ZM591.4 184.5L580.0 187.2L579.7 186.4L574.1 190.2L580.9 190.4L580.6 189.6L591.7 185.8ZM622.7 184.3L611.2 187.3L610.9 186.5L605.4 190.4L612.2 190.5L611.9 189.7L623.0 185.5ZM653.6 182.6L642.1 188.0L641.7 187.3L636.9 192.2L643.6 191.0L643.2 190.2L654.2 183.7ZM69.2 211.7L67.3 203.7L68.1 203.4L64.1 197.9L64.1 204.7L64.9 204.5L68.0 212.1ZM102.0 216.2L97.1 199.2L97.9 198.9L93.9 193.4L93.9 200.2L94.7 200.0L100.8 216.6ZM137.0 217.1L125.9 197.3L126.6 196.9L121.4 192.4L123.0 199.1L123.7 198.6L135.9 217.7ZM173.6 214.4L153.2 197.9L153.7 197.2L147.2 194.9L151.1 200.5L151.6 199.9L172.9 215.4ZM205.3 210.3L184.5 200.4L184.8 199.6L178.1 198.9L183.1 203.5L183.5 202.7L204.8 211.5ZM233.0 206.8L219.5 202.8L219.7 201.9L212.9 202.4L218.6 206.0L218.9 205.2L232.7 208.0ZM264.6 202.8L249.9 204.2L249.8 203.4L243.7 206.4L250.4 207.6L250.3 206.7L264.7 204.0ZM294.1 202.8L282.9 204.1L282.8 203.2L276.7 206.4L283.5 207.4L283.3 206.5L294.3 204.0ZM323.7 203.3L316.0 203.7L315.9 202.9L309.8 205.9L316.5 207.1L316.4 206.2L323.8 204.5ZM354.0 203.8L348.4 203.6L348.4 202.8L342.1 205.4L348.7 207.0L348.6 206.1L354.1 205.0ZM387.8 203.0L377.1 204.0L377.0 203.1L370.9 206.2L377.6 207.3L377.5 206.4L387.9 204.3ZM419.4 204.8L408.5 203.5L408.5 202.7L401.9 204.4L408.3 206.9L408.3 206.0L419.4 206.0ZM446.5 204.8L442.5 203.9L442.6 203.1L437.4 204.4L442.2 206.8L442.3 206.0L446.4 206.0ZM484.1 211.4L468.9 200.5L469.3 199.8L462.8 197.9L467.0 203.3L467.5 202.5L483.4 212.4ZM517.3 210.6L498.4 200.4L498.8 199.7L492.1 198.7L496.9 203.4L497.3 202.7L516.8 211.7ZM545.5 206.3L533.0 203.0L533.1 202.2L526.4 202.9L532.3 206.3L532.5 205.5L545.2 207.5ZM577.2 204.8L563.7 203.5L563.7 202.6L557.2 204.4L563.5 206.8L563.6 206.0L577.1 206.0ZM607.1 202.8L595.9 204.1L595.8 203.2L589.7 206.4L596.5 207.4L596.3 206.5L607.3 204.0ZM638.3 201.3L626.7 204.6L626.5 203.8L621.0 207.9L627.8 207.8L627.6 207.0L638.7 202.5ZM669.6 200.8L657.9 204.8L657.6 204.0L652.3 208.4L659.1 207.9L658.8 207.1L670.0 202.0ZM47.1 226.1L51.1 223.4L51.6 224.0L54.7 218.6L49.0 221.0L49.5 221.6L46.3 225.2ZM83.4 226.0L83.1 222.3L83.8 222.2L81.2 218.1L80.3 222.9L81.0 222.7L82.1 226.3ZM122.6 235.5L109.1 213.2L109.8 212.7L104.6 208.4L106.3 215.0L107.0 214.5L121.5 236.2ZM156.3 230.6L139.2 216.2L139.7 215.6L133.4 213.1L137.1 218.8L137.6 218.2L155.4 231.6ZM188.2 228.6L170.1 217.3L170.6 216.6L163.9 215.1L168.5 220.2L168.9 219.5L187.6 229.7ZM220.3 224.5L200.8 219.4L201.0 218.6L194.2 219.1L200.1 222.6L200.3 221.8L220.1 225.8ZM249.7 221.0L233.7 221.1L233.7 220.3L227.2 222.6L233.8 224.4L233.8 223.6L249.8 222.3ZM279.2 220.2L266.6 221.3L266.5 220.5L260.3 223.4L267.0 224.6L266.9 223.8L279.4 221.5ZM311.3 225.3L297.6 219.5L297.9 218.7L291.1 218.4L296.4 222.6L296.7 221.8L310.9 226.5ZM341.2 222.5L330.2 220.6L330.3 219.8L323.6 221.1L329.9 224.0L330.0 223.1L341.1 223.8ZM371.6 220.5L362.0 221.1L361.9 220.2L355.7 223.1L362.4 224.4L362.3 223.6L371.8 221.8ZM400.9 220.3L395.1 220.8L394.9 220.0L389.0 223.4L395.8 224.1L395.6 223.3L401.1 221.5ZM434.2 220.2L424.5 221.2L424.4 220.3L418.3 223.4L425.0 224.5L424.9 223.6L434.4 221.5ZM469.0 223.5L453.0 220.0L453.1 219.2L446.4 220.1L452.4 223.3L452.5 222.5L468.7 224.8ZM501.1 224.5L483.5 219.5L483.7 218.7L476.9 219.1L482.7 222.8L482.9 221.9L500.7 225.8ZM531.6 224.0L515.6 219.8L515.8 219.0L509.0 219.6L514.8 223.1L515.0 222.3L531.3 225.3ZM563.4 220.5L545.9 221.4L545.8 220.5L539.5 223.1L546.2 224.7L546.1 223.8L563.6 221.8ZM592.6 218.8L578.7 222.0L578.5 221.1L572.8 224.9L579.6 225.2L579.4 224.4L593.0 220.0ZM623.3 217.1L609.9 222.7L609.6 222.0L604.6 226.6L611.4 225.8L611.0 225.0L623.9 218.2ZM654.6 217.1L641.2 222.7L640.9 222.0L635.9 226.6L642.7 225.8L642.3 225.0L655.2 218.2ZM67.0 240.9L67.1 239.5L67.7 239.5L66.4 237.9L65.0 239.5L65.6 239.5L65.7 240.9ZM106.2 251.0L94.3 232.1L95.0 231.6L89.7 227.4L91.5 234.0L92.2 233.5L105.1 251.7ZM142.8 247.3L121.6 233.3L122.1 232.6L115.4 230.9L119.8 236.1L120.3 235.4L142.1 248.4ZM174.3 246.8L152.7 233.6L153.2 232.8L146.5 231.4L151.1 236.5L151.5 235.7L173.7 247.9ZM204.4 245.8L185.3 234.5L185.7 233.7L179.1 232.4L183.7 237.4L184.1 236.6L203.7 246.9ZM234.1 238.0L218.0 238.5L217.9 237.6L211.6 240.1L218.2 241.8L218.2 240.9L234.1 239.3ZM263.6 238.2L251.1 238.3L251.0 237.4L244.7 239.9L251.3 241.6L251.2 240.8L263.7 239.5ZM296.8 240.7L280.8 237.3L281.0 236.5L274.2 237.4L280.2 240.6L280.4 239.7L296.6 242.0ZM324.6 236.7L314.8 238.6L314.5 237.8L308.8 241.4L315.6 241.8L315.4 241.0L324.9 238.0ZM355.0 237.7L347.3 238.2L347.2 237.4L341.1 240.4L347.8 241.5L347.7 240.7L355.1 239.0ZM388.7 235.8L375.7 239.2L375.4 238.4L369.9 242.4L376.7 242.4L376.4 241.6L389.0 237.0ZM419.9 235.0L406.7 239.6L406.4 238.8L401.1 243.1L408.0 242.7L407.7 241.9L420.4 236.2ZM449.4 238.5L440.9 238.2L440.9 237.3L434.4 239.6L441.0 241.5L441.0 240.7L449.5 239.8ZM485.8 238.7L467.2 238.1L467.2 237.3L460.8 239.4L467.2 241.5L467.2 240.6L485.8 240.0ZM516.7 241.2L499.2 237.0L499.3 236.1L492.6 236.9L498.5 240.3L498.7 239.4L516.4 242.5ZM547.4 239.0L530.9 238.0L530.9 237.2L524.4 239.1L530.8 241.4L530.8 240.5L547.3 240.3ZM578.3 237.2L562.2 238.8L562.1 237.9L555.9 240.9L562.6 242.1L562.5 241.3L578.5 238.5ZM606.9 233.8L594.7 240.1L594.3 239.3L589.7 244.4L596.4 243.0L596.0 242.2L607.5 234.9ZM637.6 236.3L627.6 238.7L627.3 237.9L621.8 241.9L628.6 241.9L628.3 241.1L637.9 237.5ZM670.9 236.7L657.2 238.9L657.0 238.0L651.1 241.4L657.8 242.2L657.7 241.3L671.2 238.0ZM51.8 259.5L51.7 256.8L52.3 256.7L50.2 253.6L49.2 257.2L49.8 257.1L50.6 259.7ZM82.7 258.1L82.8 256.8L83.3 256.8L82.0 255.1L80.7 256.8L81.2 256.8L81.3 258.1ZM125.7 266.1L107.1 249.8L107.6 249.2L101.3 246.6L104.9 252.4L105.5 251.7L124.9 267.1ZM159.3 261.8L136.6 252.1L136.9 251.3L130.1 250.9L135.4 255.2L135.7 254.4L158.9 263.0ZM189.7 262.3L168.8 252.0L169.2 251.2L162.4 250.4L167.4 255.0L167.8 254.2L189.1 263.5ZM219.4 259.7L201.8 253.6L202.0 252.8L195.2 252.9L200.8 256.8L201.0 256.0L219.0 261.0ZM245.4 254.7L237.7 255.5L237.5 254.7L231.5 257.9L238.3 258.8L238.1 258.0L245.6 256.0ZM278.7 258.0L267.7 254.8L267.9 254.0L261.1 254.6L266.9 258.1L267.1 257.3L278.4 259.3ZM305.8 253.5L301.1 255.3L300.7 254.6L296.1 259.1L302.5 258.2L302.1 257.4L306.4 254.7ZM339.7 253.5L330.7 255.9L330.4 255.1L324.9 259.1L331.7 259.1L331.5 258.3L340.1 254.7ZM370.3 250.6L361.0 257.1L360.5 256.5L356.7 262.1L363.1 259.8L362.6 259.1L371.1 251.6ZM401.8 253.5L393.7 255.8L393.4 255.0L388.0 259.1L394.8 258.9L394.5 258.1L402.2 254.7ZM435.8 256.2L423.3 255.3L423.4 254.4L416.8 256.4L423.2 258.6L423.3 257.8L435.8 257.5ZM466.4 256.5L455.4 255.2L455.5 254.4L448.9 256.1L455.2 258.6L455.3 257.7L466.3 257.8ZM499.5 257.0L485.0 255.0L485.1 254.1L478.4 255.6L484.7 258.3L484.8 257.5L499.3 258.3ZM532.7 255.5L514.1 255.6L514.1 254.8L507.7 257.1L514.3 259.0L514.2 258.1L532.7 256.8ZM563.9 254.5L545.3 256.1L545.2 255.3L539.0 258.1L545.7 259.4L545.6 258.6L564.1 255.8ZM593.1 252.5L578.1 256.9L577.8 256.1L572.3 260.1L579.1 260.1L578.9 259.3L593.5 253.7ZM622.6 251.5L610.6 257.0L610.2 256.3L605.4 261.1L612.1 260.0L611.7 259.3L623.1 252.7ZM654.6 251.5L641.2 257.2L640.9 256.4L635.9 261.1L642.7 260.2L642.3 259.5L655.2 252.7ZM70.4 269.4L65.9 272.6L65.3 272.0L61.9 277.9L68.1 275.1L67.5 274.5L71.3 270.3ZM100.8 282.2L98.2 271.2L99.0 271.0L95.2 265.4L95.0 272.2L95.8 271.9L99.5 282.5ZM142.2 279.3L122.4 269.4L122.7 268.7L115.9 267.9L121.0 272.5L121.3 271.7L141.7 280.5ZM175.5 278.7L151.8 269.4L152.1 268.6L145.2 268.4L150.6 272.6L150.9 271.8L175.0 280.0ZM203.2 276.2L186.7 271.3L186.9 270.5L180.1 270.9L185.8 274.5L186.0 273.7L202.9 277.5ZM224.5 271.8L222.5 273.0L222.2 272.5L220.9 275.4L223.9 274.9L223.6 274.4L225.2 272.9ZM261.7 273.7L253.2 272.5L253.3 271.7L246.7 273.4L253.0 275.9L253.1 275.0L261.6 275.0ZM294.8 270.7L281.9 273.5L281.7 272.7L275.9 276.4L282.8 276.7L282.6 275.9L295.1 272.0ZM326.6 270.2L312.6 273.8L312.4 273.0L306.8 276.9L313.6 277.0L313.3 276.2L326.9 271.5ZM358.2 267.8L342.7 275.2L342.3 274.5L337.6 279.4L344.3 278.2L343.9 277.5L358.9 268.9ZM388.0 268.5L375.5 274.5L375.1 273.7L370.4 278.6L377.1 277.4L376.7 276.7L388.7 269.7ZM415.4 271.3L410.7 272.6L410.4 271.8L405.6 275.9L411.9 275.5L411.6 274.8L415.9 272.5ZM445.2 274.8L442.7 273.1L443.0 272.5L438.9 272.4L441.5 275.5L441.8 274.9L444.7 275.9ZM483.2 272.2L469.6 273.0L469.5 272.1L463.2 274.9L469.9 276.3L469.8 275.5L483.3 273.5ZM513.3 273.7L502.4 272.5L502.4 271.6L495.8 273.4L502.2 275.8L502.2 275.0L513.3 275.0ZM546.8 273.0L531.3 272.7L531.3 271.9L524.9 274.1L531.4 276.1L531.4 275.2L546.9 274.3ZM580.0 270.2L560.2 274.2L560.0 273.4L554.2 276.9L561.0 277.4L560.8 276.6L580.3 271.5ZM608.6 267.8L593.1 275.2L592.7 274.5L588.0 279.4L594.7 278.2L594.3 277.5L609.3 268.9ZM639.9 267.1L624.2 275.7L623.8 275.0L619.3 280.1L625.9 278.6L625.5 277.9L640.6 268.2ZM672.2 270.7L655.9 273.7L655.7 272.9L649.8 276.4L656.6 277.0L656.4 276.2L672.4 272.0ZM48.4 292.7L50.8 292.0L51.0 292.6L53.2 290.1L49.9 289.8L50.1 290.4L48.0 291.5ZM86.0 285.2L80.6 290.8L80.0 290.2L77.5 296.6L83.2 292.9L82.6 292.4L87.0 286.0ZM117.3 284.5L111.6 291.3L110.9 290.8L108.8 297.4L114.3 293.3L113.6 292.8L118.3 285.2ZM159.4 296.8L136.6 286.3L136.9 285.5L130.1 284.9L135.2 289.4L135.6 288.6L158.8 297.9ZM189.6 296.0L168.9 286.9L169.2 286.1L162.4 285.6L167.6 290.0L167.9 289.2L189.2 297.2ZM210.6 289.7L207.3 290.0L207.2 289.4L203.7 291.9L207.9 292.7L207.8 292.0L210.8 291.0ZM240.7 289.3L238.3 290.2L238.1 289.6L236.0 292.4L239.4 292.4L239.2 291.8L241.3 290.4ZM280.3 291.2L265.9 289.6L265.9 288.7L259.3 290.4L265.6 292.9L265.7 292.1L280.3 292.5ZM311.3 286.0L296.1 291.9L295.7 291.1L290.6 295.6L297.4 295.0L297.1 294.2L311.9 287.2ZM343.4 285.0L326.4 292.6L326.1 291.9L321.1 296.6L327.9 295.6L327.5 294.9L343.9 286.2ZM372.8 283.6L358.7 293.2L358.2 292.6L354.2 298.1L360.7 295.9L360.2 295.3L373.6 284.6ZM402.3 287.5L393.1 290.5L392.8 289.7L387.5 294.1L394.3 293.6L394.0 292.8L402.7 288.7ZM434.1 288.5L424.3 290.3L424.1 289.5L418.3 293.1L425.1 293.6L424.9 292.7L434.5 289.7ZM464.4 288.0L456.3 290.2L456.0 289.4L450.6 293.6L457.4 293.4L457.1 292.6L464.8 289.2ZM494.0 291.5L489.6 290.1L489.8 289.3L483.9 290.1L489.0 293.1L489.2 292.3L493.8 292.7ZM530.2 291.0L516.8 289.7L516.8 288.8L510.2 290.6L516.6 293.0L516.6 292.2L530.2 292.2ZM560.2 289.2L549.0 290.2L548.9 289.4L542.8 292.4L549.5 293.5L549.4 292.7L560.3 290.5ZM593.0 285.0L577.5 292.5L577.1 291.7L572.3 296.6L579.0 295.4L578.6 294.7L593.6 286.2ZM623.7 283.1L608.6 293.7L608.0 293.0L604.1 298.6L610.6 296.4L610.1 295.7L624.5 284.1ZM657.6 283.0L637.8 294.2L637.4 293.5L632.9 298.6L639.6 297.1L639.1 296.3L658.2 284.2ZM104.3 309.2L97.8 307.1L98.0 306.3L91.2 306.8L97.0 310.3L97.2 309.5L104.0 310.5ZM138.3 312.8L126.2 305.4L126.7 304.7L119.9 303.3L124.6 308.3L125.0 307.6L137.6 313.9ZM175.5 313.2L151.8 303.9L152.1 303.1L145.2 302.8L150.6 307.0L150.9 306.3L175.0 314.5ZM194.7 308.2L192.0 307.5L192.1 306.8L188.6 307.8L191.6 310.0L191.7 309.3L194.4 309.5ZM226.1 309.3L223.6 307.6L223.9 307.0L219.9 306.8L222.4 310.0L222.7 309.4L225.6 310.4ZM263.7 308.4L251.2 306.9L251.3 306.0L244.7 307.6L251.0 310.2L251.0 309.3L263.6 309.7ZM295.1 301.5L280.3 310.1L279.8 309.4L275.4 314.6L282.1 312.9L281.6 312.2L295.8 302.6ZM326.0 303.3L312.6 308.9L312.2 308.2L307.2 312.8L314.0 312.0L313.7 311.2L326.5 304.4ZM359.1 304.7L342.8 308.5L342.5 307.6L336.8 311.3L343.6 311.7L343.4 310.9L359.5 306.0ZM388.6 303.7L375.4 308.7L375.0 307.9L369.9 312.3L376.7 311.8L376.3 311.0L389.1 304.9ZM421.1 307.2L406.6 307.3L406.5 306.4L400.1 308.8L406.7 310.6L406.7 309.8L421.2 308.5ZM451.1 301.5L437.2 310.0L436.7 309.3L432.4 314.6L439.0 312.8L438.6 312.1L451.8 302.6ZM479.2 307.2L473.6 307.1L473.6 306.2L467.2 308.8L473.9 310.4L473.8 309.5L479.3 308.5ZM506.6 310.5L505.5 308.1L506.0 307.8L503.1 305.8L503.4 309.4L503.9 309.1L505.5 311.2ZM543.4 307.7L534.9 307.1L534.9 306.2L528.4 308.3L534.9 310.4L534.9 309.6L543.4 309.0ZM577.0 305.7L563.3 307.8L563.1 307.0L557.2 310.3L563.9 311.1L563.8 310.3L577.3 307.0ZM608.7 302.8L593.3 309.4L592.9 308.6L588.0 313.3L594.7 312.4L594.4 311.7L609.2 303.9ZM640.6 297.4L622.4 313.5L621.8 312.9L618.5 318.8L624.7 315.9L624.1 315.3L641.4 298.3ZM670.4 306.2L657.8 307.6L657.6 306.8L651.6 309.8L658.3 310.9L658.2 310.1L670.7 307.5ZM49.0 327.4L51.0 326.4L51.3 326.9L52.7 324.3L49.7 324.5L50.0 325.0L48.4 326.3ZM85.2 325.7L82.5 324.7L82.7 324.1L79.0 324.8L81.9 327.2L82.1 326.6L84.8 327.0ZM117.1 323.5L113.3 324.4L113.1 323.7L109.3 327.1L114.3 327.1L114.1 326.4L117.5 324.7ZM146.5 326.0L145.2 325.0L145.5 324.5L143.1 324.6L144.0 326.8L144.3 326.4L145.7 327.1ZM180.0 325.4L176.4 324.6L176.5 323.9L171.9 325.1L176.1 327.4L176.2 326.7L179.8 326.7ZM211.4 326.5L208.0 324.7L208.2 324.0L203.2 324.1L207.0 327.4L207.2 326.7L211.0 327.7ZM244.1 325.7L239.2 324.5L239.3 323.7L233.0 324.8L238.8 327.7L238.9 326.8L243.9 327.0ZM278.1 318.1L265.3 327.5L264.8 326.9L261.1 332.6L267.4 330.2L266.9 329.5L279.0 319.1ZM310.8 319.5L296.2 326.9L295.8 326.1L291.1 331.1L297.8 329.8L297.4 329.0L311.4 320.6ZM342.7 321.2L327.6 326.0L327.3 325.2L321.9 329.3L328.7 329.1L328.4 328.3L343.1 322.4ZM373.5 321.2L359.3 325.9L359.0 325.1L353.7 329.3L360.5 329.0L360.2 328.2L373.9 322.4ZM400.9 324.4L395.4 324.3L395.3 323.4L389.0 326.1L395.7 327.6L395.6 326.8L401.1 325.7ZM437.4 322.2L421.1 325.6L420.9 324.7L415.1 328.3L421.9 328.8L421.7 328.0L437.7 323.5ZM468.8 323.4L452.6 325.0L452.5 324.1L446.4 327.1L453.1 328.3L453.0 327.5L468.9 324.7ZM497.4 321.2L485.6 325.6L485.3 324.8L480.1 329.3L487.0 328.7L486.6 327.9L497.9 322.4ZM526.7 317.2L516.5 327.9L515.9 327.3L513.2 333.6L519.1 330.1L518.4 329.5L527.7 318.0ZM561.2 320.5L546.9 326.3L546.6 325.5L541.5 330.1L548.3 329.3L547.9 328.6L561.8 321.7ZM588.6 323.4L582.8 324.3L582.6 323.5L576.8 327.1L583.6 327.5L583.4 326.7L589.0 324.7ZM624.2 317.6L608.2 328.3L607.7 327.6L603.6 333.1L610.1 331.0L609.6 330.3L625.0 318.6ZM655.2 321.2L641.0 325.9L640.7 325.1L635.4 329.3L642.2 329.0L641.9 328.2L655.6 322.4ZM65.4 346.1L67.1 343.6L67.7 343.9L67.9 339.8L64.7 342.4L65.3 342.7L64.3 345.5ZM97.8 345.4L98.5 343.2L99.1 343.4L98.2 340.3L96.1 342.8L96.7 342.9L96.5 345.2ZM126.2 342.2L128.3 343.5L128.0 344.1L131.4 344.1L129.4 341.3L129.1 341.9L126.7 341.0ZM158.4 340.6L159.3 343.0L158.7 343.3L161.5 345.3L161.5 341.9L160.9 342.2L159.6 340.0ZM193.3 342.7L191.9 342.1L192.1 341.6L190.1 342.3L191.3 344.1L191.5 343.6L192.8 343.9ZM227.2 341.4L223.1 341.7L223.0 340.9L218.4 343.6L223.6 344.6L223.5 343.8L227.5 342.7ZM262.6 338.5L250.9 342.9L250.5 342.1L245.4 346.6L252.2 345.9L251.9 345.2L263.2 339.7ZM293.1 337.3L282.3 343.3L281.8 342.6L277.4 347.8L284.1 346.2L283.6 345.4L293.8 338.4ZM327.7 337.2L310.9 344.0L310.6 343.3L305.5 347.8L312.3 347.1L311.9 346.3L328.3 338.4ZM358.3 338.7L343.3 343.1L343.1 342.3L337.6 346.3L344.4 346.3L344.1 345.5L358.8 339.9ZM390.8 340.7L374.1 342.2L374.0 341.4L367.9 344.3L374.6 345.6L374.5 344.7L390.9 342.0ZM421.7 339.2L405.4 342.9L405.1 342.1L399.4 345.8L406.2 346.2L406.0 345.4L422.1 340.4ZM454.5 343.2L436.0 341.1L436.1 340.2L429.4 341.8L435.8 344.4L435.8 343.6L454.4 344.5ZM486.9 340.9L465.9 342.2L465.8 341.4L459.5 344.1L466.2 345.6L466.1 344.7L487.1 342.2ZM515.6 338.7L499.1 343.2L498.9 342.4L493.3 346.3L500.1 346.4L499.9 345.6L516.0 339.9ZM547.2 338.7L530.2 343.2L530.0 342.4L524.4 346.3L531.2 346.4L530.9 345.6L547.5 339.9ZM577.5 339.4L562.6 342.7L562.4 341.9L556.7 345.6L563.5 346.0L563.3 345.1L577.8 340.7ZM606.8 335.3L594.0 344.8L593.5 344.1L589.7 349.8L596.1 347.4L595.6 346.7L607.6 336.3ZM633.7 336.2L628.0 343.1L627.3 342.6L625.3 349.1L630.8 345.0L630.1 344.5L634.8 336.9ZM670.6 343.4L658.2 341.2L658.3 340.3L651.6 341.6L657.7 344.5L657.8 343.7L670.5 344.7ZM47.1 364.0L51.1 361.3L51.6 361.9L54.7 356.6L49.0 358.9L49.5 359.5L46.3 363.1ZM81.6 363.3L82.8 360.7L83.4 360.9L83.0 357.1L80.4 359.9L81.0 360.1L80.4 362.9ZM111.8 362.5L113.8 360.9L114.2 361.4L115.3 358.1L112.0 359.2L112.4 359.6L110.8 361.6ZM142.4 361.9L144.8 361.0L145.0 361.6L147.1 358.8L143.7 358.8L143.9 359.4L141.8 360.7ZM172.0 361.2L175.6 361.1L175.7 361.9L179.9 359.6L175.3 358.4L175.4 359.1L171.8 359.9ZM205.3 359.6L206.6 360.6L206.3 361.1L208.7 361.1L207.8 358.8L207.5 359.3L206.1 358.5ZM242.7 360.4L239.2 359.1L239.3 358.4L234.5 359.1L238.5 361.9L238.6 361.2L242.3 361.7ZM273.9 359.9L270.3 359.1L270.4 358.4L265.8 359.6L270.0 361.9L270.1 361.1L273.7 361.2ZM306.9 357.9L301.1 358.8L300.9 357.9L295.1 361.6L301.9 362.0L301.7 361.2L307.3 359.2ZM342.7 356.7L327.9 360.0L327.7 359.1L321.9 362.8L328.7 363.2L328.5 362.4L343.1 357.9ZM376.6 357.4L356.9 359.8L356.8 359.0L350.7 362.1L357.4 363.1L357.3 362.3L376.8 358.7ZM407.9 357.2L388.2 360.0L388.0 359.1L382.0 362.3L388.8 363.3L388.6 362.4L408.1 358.5ZM438.3 359.9L420.8 358.6L420.9 357.7L414.3 359.6L420.7 361.9L420.7 361.1L438.3 361.2ZM472.0 357.4L449.4 359.9L449.3 359.1L443.1 362.1L449.8 363.3L449.7 362.4L472.2 358.7ZM501.8 357.4L482.1 359.8L482.0 359.0L475.9 362.1L482.6 363.1L482.5 362.3L502.0 358.7ZM531.4 357.9L515.2 359.5L515.1 358.6L509.0 361.6L515.7 362.8L515.6 361.9L531.5 359.2ZM563.9 356.7L545.1 360.2L544.9 359.4L539.0 362.8L545.8 363.5L545.6 362.6L564.1 357.9ZM592.5 355.0L578.2 360.8L577.9 360.0L572.8 364.6L579.6 363.8L579.2 363.0L593.1 356.2ZM620.7 355.0L611.9 360.0L611.4 359.3L607.1 364.6L613.7 362.8L613.2 362.1L621.5 356.1ZM647.5 357.6L645.1 359.1L644.6 358.6L642.9 362.1L646.7 361.1L646.2 360.6L648.3 358.6ZM65.7 380.1L67.0 378.0L67.6 378.2L67.6 374.8L64.8 376.9L65.4 377.1L64.5 379.5ZM189.0 374.1L190.4 377.5L189.8 377.8L193.6 380.8L192.9 376.1L192.3 376.4L190.1 373.5ZM220.8 375.1L221.9 377.5L221.4 377.9L224.4 379.8L224.0 376.2L223.5 376.6L221.9 374.5ZM259.3 377.9L254.9 376.3L255.1 375.5L249.2 376.1L254.2 379.3L254.4 378.6L259.0 379.2ZM289.5 377.2L286.0 376.3L286.1 375.6L281.4 376.8L285.6 379.1L285.7 378.4L289.4 378.4ZM323.7 376.4L316.2 376.1L316.2 375.2L309.8 377.6L316.3 379.4L316.3 378.6L323.8 377.7ZM358.0 376.2L344.5 376.2L344.4 375.4L338.1 377.8L344.6 379.6L344.6 378.7L358.1 377.4ZM389.3 376.2L375.8 376.2L375.7 375.4L369.4 377.8L375.9 379.6L375.9 378.7L389.4 377.4ZM423.1 375.7L404.5 376.5L404.5 375.7L398.1 378.3L404.8 379.9L404.7 379.0L423.2 376.9ZM451.4 376.2L438.9 376.2L438.8 375.4L432.4 377.8L439.1 379.6L439.0 378.7L451.5 377.4ZM483.7 376.4L469.2 376.1L469.2 375.3L462.8 377.6L469.3 379.5L469.3 378.6L483.8 377.7ZM516.5 375.4L498.9 376.6L498.8 375.8L492.6 378.6L499.2 380.0L499.1 379.1L516.6 376.7ZM546.9 376.9L531.4 375.9L531.4 375.1L524.9 377.1L531.3 379.3L531.3 378.4L546.8 378.2ZM577.5 374.7L562.8 376.9L562.6 376.0L556.7 379.3L563.4 380.1L563.3 379.3L577.8 375.9ZM607.8 374.7L595.1 376.7L594.9 375.9L589.0 379.3L595.7 380.0L595.6 379.2L608.1 375.9ZM636.4 372.3L627.5 377.2L627.1 376.5L622.8 381.8L629.4 380.1L628.9 379.3L637.1 373.3ZM666.0 381.9L661.8 376.3L662.5 375.7L656.6 372.3L659.3 378.5L660.0 378.0L665.1 382.7ZM50.1 399.2L51.6 395.3L52.4 395.5L52.0 390.0L48.8 394.5L49.5 394.7L48.8 398.9ZM78.6 392.5L81.0 395.1L80.6 395.6L85.0 397.0L82.8 393.0L82.4 393.5L79.4 391.5ZM110.9 400.4L114.3 395.3L115.0 395.8L116.3 389.0L111.3 393.7L112.1 394.1L109.7 399.7ZM173.8 397.0L176.2 395.5L176.7 396.0L178.4 392.5L174.6 393.5L175.1 394.0L173.0 396.0ZM205.6 389.7L206.0 394.3L205.2 394.4L208.2 399.5L209.0 393.7L208.2 393.8L206.8 389.4ZM241.0 389.7L237.8 393.4L237.1 393.0L235.5 399.0L240.5 395.2L239.8 394.7L242.0 390.4ZM272.9 391.0L269.4 393.4L268.9 392.8L266.3 397.5L271.4 395.6L270.9 395.1L273.7 392.0ZM299.2 391.8L300.1 394.6L299.5 394.9L302.4 397.5L302.5 393.6L301.9 393.9L300.5 391.3ZM340.2 398.5L331.1 392.3L331.6 391.6L324.9 390.0L329.4 395.2L329.8 394.5L339.6 399.6ZM373.8 395.1L360.3 392.9L360.4 392.0L353.7 393.3L359.9 396.2L360.0 395.3L373.6 396.4ZM404.5 394.4L392.1 393.1L392.1 392.3L385.5 394.0L391.9 396.5L391.9 395.6L404.5 395.7ZM435.7 391.9L422.9 394.0L422.7 393.1L416.8 396.5L423.6 397.3L423.4 396.4L435.9 393.2ZM472.7 395.4L449.2 392.4L449.3 391.6L442.6 393.0L448.9 395.8L448.9 394.9L472.5 396.7ZM500.9 394.4L483.4 393.1L483.5 392.2L476.9 394.0L483.3 396.4L483.3 395.6L500.9 395.7ZM534.0 394.4L513.0 393.0L513.0 392.2L506.5 394.0L512.9 396.4L512.9 395.5L533.9 395.7ZM563.4 392.9L545.9 393.8L545.8 392.9L539.5 395.5L546.2 397.1L546.1 396.2L563.6 394.2ZM591.6 394.1L580.6 393.2L580.6 392.4L574.1 394.3L580.5 396.6L580.5 395.7L591.5 395.4ZM619.6 394.1L614.7 393.4L614.7 392.6L608.6 394.3L614.6 396.6L614.6 395.8L619.6 395.4ZM652.0 398.5L645.2 392.8L645.7 392.1L639.2 390.0L643.2 395.5L643.7 394.9L651.3 399.6ZM62.7 412.9L66.1 412.8L66.2 413.5L70.1 411.3L65.7 410.1L65.8 410.8L62.5 411.6ZM189.2 405.7L190.3 412.1L189.5 412.3L193.3 418.0L193.6 411.2L192.8 411.4L190.4 405.4ZM224.2 405.3L221.6 411.5L220.8 411.2L220.9 418.0L224.8 412.5L224.0 412.2L225.5 405.7ZM256.1 407.9L253.5 410.8L252.9 410.4L251.7 415.3L255.9 412.5L255.3 412.1L257.2 408.7ZM283.8 408.2L284.4 411.7L283.7 411.9L286.4 415.5L287.0 411.0L286.3 411.1L285.1 407.9ZM322.4 412.4L317.6 410.7L317.8 409.9L311.2 410.5L316.8 413.9L317.0 413.1L322.1 413.7ZM355.8 414.2L347.0 410.0L347.4 409.2L340.6 408.8L345.8 413.1L346.1 412.4L355.3 415.4ZM388.5 412.6L377.0 410.1L377.1 409.3L370.4 410.3L376.4 413.4L376.6 412.6L388.2 413.9ZM420.0 409.1L407.3 411.2L407.1 410.4L401.1 413.8L407.9 414.5L407.8 413.7L420.3 410.4ZM452.0 412.1L438.5 410.2L438.6 409.3L431.9 410.8L438.2 413.5L438.3 412.7L451.9 413.4ZM485.4 413.6L467.9 409.4L468.0 408.5L461.2 409.3L467.2 412.7L467.4 411.8L485.1 414.9ZM515.2 414.2L500.6 409.4L500.9 408.5L494.1 408.8L499.7 412.6L500.0 411.8L514.9 415.4ZM547.7 412.1L530.7 410.1L530.8 409.2L524.1 410.8L530.4 413.4L530.5 412.6L547.5 413.4ZM578.3 409.9L562.2 411.1L562.1 410.2L555.9 413.0L562.6 414.4L562.5 413.6L578.5 411.2ZM607.9 409.9L595.2 410.9L595.1 410.1L589.0 413.0L595.7 414.3L595.6 413.4L608.0 411.2ZM637.9 413.4L628.3 410.1L628.6 409.3L621.8 409.5L627.4 413.3L627.7 412.5L637.6 414.7ZM667.9 409.2L660.0 410.8L659.7 410.0L654.1 413.8L660.9 414.0L660.6 413.2L668.2 410.4ZM47.7 426.4L49.7 429.4L49.1 429.8L53.2 432.0L51.8 427.6L51.2 428.1L48.7 425.6ZM177.8 423.3L175.0 428.1L174.2 427.7L173.4 434.5L178.0 429.5L177.2 429.1L179.0 423.8ZM204.1 421.2L206.6 431.2L205.8 431.4L209.7 437.0L209.8 430.2L209.0 430.4L205.3 420.8ZM243.4 419.2L235.2 432.3L234.4 431.8L233.0 438.5L238.1 433.9L237.3 433.5L244.6 419.8ZM273.8 424.1L269.0 428.0L268.4 427.4L265.3 433.5L271.4 430.4L270.8 429.8L274.8 425.0ZM301.0 427.7L300.5 428.6L300.0 428.4L300.6 430.0L302.3 429.5L301.8 429.3L302.2 428.3ZM337.0 428.9L333.0 428.0L333.1 427.2L327.9 428.5L332.6 430.9L332.7 430.2L336.8 430.2ZM370.7 428.9L363.3 427.7L363.3 426.9L356.7 428.5L363.0 431.1L363.1 430.2L370.7 430.2ZM401.4 429.4L395.4 427.8L395.5 427.0L388.8 428.0L394.8 431.1L395.0 430.3L401.1 430.7ZM435.7 426.4L422.9 428.5L422.7 427.6L416.8 431.0L423.6 431.7L423.4 430.9L435.9 427.7ZM468.0 426.9L453.4 428.4L453.2 427.5L447.1 430.5L453.8 431.7L453.7 430.8L468.2 428.2ZM496.4 428.9L488.0 427.7L488.0 426.9L481.4 428.5L487.7 431.0L487.8 430.2L496.4 430.2ZM524.5 430.4L521.1 428.2L521.4 427.6L516.2 427.0L519.8 430.9L520.1 430.2L523.9 431.6ZM557.6 429.4L552.1 427.9L552.3 427.0L545.5 428.0L551.6 431.2L551.7 430.3L557.4 430.7ZM594.2 430.9L578.2 426.7L578.4 425.9L571.6 426.5L577.4 430.0L577.6 429.2L593.9 432.2ZM623.6 428.9L611.2 427.6L611.2 426.8L604.6 428.5L611.0 431.0L611.0 430.1L623.6 430.2ZM652.3 427.1L644.6 427.9L644.4 427.1L638.4 430.3L645.2 431.2L645.0 430.4L652.5 428.4ZM63.1 451.6L67.2 447.2L67.9 447.7L70.1 441.3L64.5 445.2L65.2 445.7L62.1 450.9ZM192.9 435.1L189.5 450.6L188.6 450.5L189.6 457.3L192.8 451.2L191.9 451.1L194.2 435.4ZM229.4 438.8L219.6 447.8L219.0 447.2L215.9 453.3L221.9 450.1L221.3 449.5L230.3 439.7ZM264.7 446.1L250.2 444.8L250.2 444.0L243.7 445.8L250.0 448.2L250.1 447.3L264.6 447.4ZM290.3 444.4L285.7 445.0L285.5 444.2L280.4 447.5L286.4 448.0L286.2 447.3L290.6 445.6ZM351.4 447.7L348.9 445.6L349.3 445.1L345.1 444.3L347.4 447.9L347.8 447.3L350.7 448.8ZM385.0 446.6L380.1 445.2L380.3 444.4L373.9 445.3L379.5 448.4L379.7 447.5L384.7 447.9ZM417.6 445.1L410.0 445.1L410.0 444.2L403.6 446.8L410.3 448.4L410.2 447.5L417.7 446.4ZM473.9 448.8L474.1 446.5L474.7 446.5L473.2 443.8L471.8 446.5L472.4 446.5L472.6 448.8ZM506.6 447.9L505.4 445.9L505.9 445.6L503.1 444.3L503.5 447.4L504.0 447.0L505.5 448.6ZM536.0 448.4L536.6 446.7L537.2 446.8L536.4 444.3L534.4 446.1L535.0 446.3L534.7 448.1ZM576.1 448.1L565.0 444.3L565.2 443.5L558.4 443.8L564.1 447.6L564.3 446.7L575.7 449.4ZM606.4 445.1L596.9 445.1L596.8 444.3L590.5 446.8L597.1 448.5L597.0 447.6L606.5 446.4ZM636.9 447.6L629.3 444.8L629.6 444.0L622.8 444.3L628.4 448.1L628.7 447.2L636.6 448.9Z" fill="#fff"/>
</g>
<rect x="47.5" y="84.5" width="626" height="379" fill="none" stroke="#fff" stroke-width="2"/>
<g opacity="0.999">
<path d="M49.6 82.6V84M49.6 461.3V463M81.1 82.6V84M81.1 461.3V463M112.6 82.6V84M112.6 461.3V463M144.1 82.6V84M144.1 461.3V463M175.6 82.6V84M175.6 461.3V463M207.1 82.6V84M207.1 461.3V463M238.6 82.6V84M238.6 461.3V463M270.1 82.6V84M270.1 461.3V463M301.6 82.6V84M301.6 461.3V463M333.1 82.6V84M333.1 461.3V463M364.6 82.6V84M364.6 461.3V463M396.1 82.6V84M396.1 461.3V463M427.6 82.6V84M427.6 461.3V463M459.1 82.6V84M459.1 461.3V463M490.6 82.6V84M490.6 461.3V463M522.1 82.6V84M522.1 461.3V463M553.6 82.6V84M553.6 461.3V463M585.1 82.6V84M585.1 461.3V463M616.6 82.6V84M616.6 461.3V463M648.1 82.6V84M648.1 461.3V463" stroke="#fff" stroke-width="1.3" fill="none" opacity="0.9"/>
<path d="M559.6 33.8L571 12.3M597.2 33.8L609 12.3M226.4 23.6H237.4" stroke="#fff" stroke-width="2" stroke-linecap="round" fill="none"/>
<path d="M574.9 18.6L577.9 15.6V30M652.3 18.6L655.3 15.6V30" stroke="#fff" stroke-width="2" stroke-linejoin="miter" fill="none"/>
<text transform="translate(35.24,30) scale(0.783,1)" font-size="21.5" font-weight="bold">F</text>
<text transform="translate(47.88,30) scale(0.678,1)" font-size="21.5" font-weight="bold">N</text>
<text transform="translate(59.05,30) scale(0.737,1)" font-size="21.5" font-weight="bold">M</text>
<text transform="translate(71.86,30) scale(0.748,1)" font-size="21.5" font-weight="bold">O</text>
<text transform="translate(85.57,30) scale(0.793,1)" font-size="21.5" font-weight="bold">C</text>
<text transform="translate(111.82,30) scale(0.793,1)" font-size="21.5" font-weight="bold">C</text>
<text transform="translate(125.61,30) scale(0.748,1)" font-size="21.5" font-weight="bold">O</text>
<text transform="translate(139.15,30) scale(0.804,1)" font-size="21.5" font-weight="bold">A</text>
<text transform="translate(151.99,30) scale(0.786,1)" font-size="21.5" font-weight="bold">M</text>
<text transform="translate(166.47,30) scale(0.802,1)" font-size="21.5" font-weight="bold">P</text>
<text transform="translate(178.90,30) scale(0.820,1)" font-size="21.5" font-weight="bold">S</text>
<text transform="translate(200.16,30) scale(1.011,1)" font-size="21.5" stroke="#fff" stroke-width="0.9">2</text>
<text transform="translate(213.31,30) scale(1.026,1)" font-size="21.5" stroke="#fff" stroke-width="0.9">4</text>
<text transform="translate(239.00,30) scale(0.775,1)" font-size="21.5" font-weight="bold">H</text>
<text transform="translate(253.27,30) scale(1.342,1)" font-size="21.5" stroke="#fff" stroke-width="0.5">r</text>
<text transform="translate(277.60,30) scale(0.894,1)" font-size="21.5" font-weight="bold">F</text>
<text transform="translate(292.92,30) scale(0.969,1)" font-size="21.5" stroke="#fff" stroke-width="0.9">o</text>
<text transform="translate(307.02,30) scale(1.342,1)" font-size="21.5" stroke="#fff" stroke-width="0.5">r</text>
<text transform="translate(317.81,30) scale(1.090,1)" font-size="21.5" stroke="#fff" stroke-width="0.9">e</text>
<text transform="translate(331.59,30) scale(1.057,1)" font-size="21.5" stroke="#fff" stroke-width="0.9">c</text>
<text transform="translate(344.13,30) scale(1.006,1)" font-size="21.5" stroke="#fff" stroke-width="0.9">a</text>
<text transform="translate(358.31,30) scale(1.034,1)" font-size="21.5" stroke="#fff" stroke-width="0.9">s</text>
<text transform="translate(369.77,30) scale(1.077,1)" font-size="21.5" stroke="#fff" stroke-width="0.9">t</text>
<text transform="translate(393.75,30) scale(1.047,1)" font-size="21.5" stroke="#fff" stroke-width="0.9">v</text>
<text transform="translate(406.63,30) scale(1.006,1)" font-size="21.5" stroke="#fff" stroke-width="0.9">a</text>
<text transform="translate(424.38,30) scale(1.000,1)" font-size="21.5" stroke="#fff" stroke-width="0.9">l</text>
<text transform="translate(436.88,30) scale(1.000,1)" font-size="21.5" stroke="#fff" stroke-width="0.9">i</text>
<text transform="translate(444.02,30) scale(1.138,1)" font-size="21.5" stroke="#fff" stroke-width="0.9">d</text>
<text transform="translate(469.13,30) scale(1.006,1)" font-size="21.5" stroke="#fff" stroke-width="0.9">a</text>
<text transform="translate(483.47,30) scale(1.292,1)" font-size="21.5" stroke="#fff" stroke-width="0.9">t</text>
<text transform="translate(507.66,30) scale(1.011,1)" font-size="21.5" stroke="#fff" stroke-width="0.9">2</text>
<text transform="translate(520.59,30) scale(1.020,1)" font-size="21.5" stroke="#fff" stroke-width="0.9">0</text>
<text transform="translate(533.86,30) scale(0.997,1)" font-size="21.5" stroke="#fff" stroke-width="0.9">0</text>
<text transform="translate(546.11,30) scale(1.039,1)" font-size="21.5" stroke="#fff" stroke-width="0.9">9</text>
<text transform="translate(583.06,30) scale(1.068,1)" font-size="21.5" stroke="#fff" stroke-width="0.9">0</text>
<text transform="translate(609.84,30) scale(1.020,1)" font-size="21.5" stroke="#fff" stroke-width="0.9">0</text>
<text transform="translate(622.53,30) scale(1.094,1)" font-size="21.5" stroke="#fff" stroke-width="0.9">4</text>
<text transform="translate(657.53,30) scale(1.138,1)" font-size="21.5" stroke="#fff" stroke-width="0.9">2</text>
<text transform="translate(672.62,30) scale(0.877,1)" font-size="21.5" font-weight="bold">Z</text>
<text x="27" y="74.5" font-size="17" text-anchor="start" font-weight="normal" textLength="44.5" lengthAdjust="spacingAndGlyphs">100°W</text>
<text x="112.35" y="74.5" font-size="17" text-anchor="start" font-weight="normal" textLength="36.5" lengthAdjust="spacingAndGlyphs">95°W</text>
<text x="190.6" y="74.5" font-size="17" text-anchor="start" font-weight="normal" textLength="36.5" lengthAdjust="spacingAndGlyphs">90°W</text>
<text x="268.85" y="74.5" font-size="17" text-anchor="start" font-weight="normal" textLength="36.5" lengthAdjust="spacingAndGlyphs">85°W</text>
<text x="347.1" y="74.5" font-size="17" text-anchor="start" font-weight="normal" textLength="36.5" lengthAdjust="spacingAndGlyphs">80°W</text>
<text x="425.35" y="74.5" font-size="17" text-anchor="start" font-weight="normal" textLength="36.5" lengthAdjust="spacingAndGlyphs">75°W</text>
<text x="503.6" y="74.5" font-size="17" text-anchor="start" font-weight="normal" textLength="36.5" lengthAdjust="spacingAndGlyphs">70°W</text>
<text x="581.85" y="74.5" font-size="17" text-anchor="start" font-weight="normal" textLength="36.5" lengthAdjust="spacingAndGlyphs">65°W</text>
<text x="660.1" y="74.5" font-size="17" text-anchor="start" font-weight="normal" textLength="36.5" lengthAdjust="spacingAndGlyphs">60°W</text>
<text x="3" y="469.7" font-size="16.5" text-anchor="start" font-weight="normal" textLength="35.2" lengthAdjust="spacingAndGlyphs">10°N</text>
<text x="683.5" y="469.7" font-size="16.5" text-anchor="start" font-weight="normal" textLength="34.5" lengthAdjust="spacingAndGlyphs">10°N</text>
<text x="3" y="383.5" font-size="16.5" text-anchor="start" font-weight="normal" textLength="35.2" lengthAdjust="spacingAndGlyphs">15°N</text>
<text x="683.5" y="383.5" font-size="16.5" text-anchor="start" font-weight="normal" textLength="34.5" lengthAdjust="spacingAndGlyphs">15°N</text>
<text x="3" y="297.3" font-size="16.5" text-anchor="start" font-weight="normal" textLength="35.2" lengthAdjust="spacingAndGlyphs">20°N</text>
<text x="683.5" y="297.3" font-size="16.5" text-anchor="start" font-weight="normal" textLength="34.5" lengthAdjust="spacingAndGlyphs">20°N</text>
<text x="3" y="211.10000000000002" font-size="16.5" text-anchor="start" font-weight="normal" textLength="35.2" lengthAdjust="spacingAndGlyphs">25°N</text>
<text x="683.5" y="211.10000000000002" font-size="16.5" text-anchor="start" font-weight="normal" textLength="34.5" lengthAdjust="spacingAndGlyphs">25°N</text>
<text x="3" y="124.90000000000005" font-size="16.5" text-anchor="start" font-weight="normal" textLength="35.2" lengthAdjust="spacingAndGlyphs">30°N</text>
<text x="683.5" y="124.90000000000005" font-size="16.5" text-anchor="start" font-weight="normal" textLength="34.5" lengthAdjust="spacingAndGlyphs">30°N</text>
<rect x="47" y="469" width="627" height="14" fill="#fff"/>
<rect x="48.00" y="470.5" width="24.12" height="11.5" fill="#000040"/>
<rect x="74.12" y="470.5" width="24.12" height="11.5" fill="#000080"/>
<rect x="100.25" y="470.5" width="24.12" height="11.5" fill="#0000b0"/>
<rect x="126.38" y="470.5" width="24.12" height="11.5" fill="#0000ff"/>
<rect x="152.50" y="470.5" width="24.12" height="11.5" fill="#0020ff"/>
<rect x="178.62" y="470.5" width="24.12" height="11.5" fill="#0050ff"/>
<rect x="204.75" y="470.5" width="24.12" height="11.5" fill="#0080ff"/>
<rect x="230.88" y="470.5" width="24.12" height="11.5" fill="#00a8ff"/>
<rect x="257.00" y="470.5" width="24.12" height="11.5" fill="#00d0ff"/>
<rect x="283.12" y="470.5" width="24.12" height="11.5" fill="#00f8ff"/>
<rect x="309.25" y="470.5" width="24.12" height="11.5" fill="#00ff00"/>
<rect x="335.38" y="470.5" width="24.12" height="11.5" fill="#a0ff00"/>
<rect x="361.50" y="470.5" width="24.12" height="11.5" fill="#ffff00"/>
<rect x="387.62" y="470.5" width="24.12" height="11.5" fill="#ffd000"/>
<rect x="413.75" y="470.5" width="24.12" height="11.5" fill="#ff8000"/>
<rect x="439.88" y="470.5" width="24.12" height="11.5" fill="#ff5000"/>
<rect x="466.00" y="470.5" width="24.12" height="11.5" fill="#ff2800"/>
<rect x="492.12" y="470.5" width="24.12" height="11.5" fill="#ff0000"/>
<rect x="518.25" y="470.5" width="24.12" height="11.5" fill="#f00000"/>
<rect x="544.38" y="470.5" width="24.12" height="11.5" fill="#cc0000"/>
<rect x="570.50" y="470.5" width="24.12" height="11.5" fill="#a00000"/>
<rect x="596.62" y="470.5" width="24.12" height="11.5" fill="#780000"/>
<rect x="622.75" y="470.5" width="24.12" height="11.5" fill="#500000"/>
<rect x="648.88" y="470.5" width="24.12" height="11.5" fill="#300800"/>
<text x="85.5" y="497.5" font-size="16.5" text-anchor="start" font-weight="normal" textLength="27.5" lengthAdjust="spacingAndGlyphs">990</text>
<text x="163.875" y="497.5" font-size="16.5" text-anchor="start" font-weight="normal" textLength="27.5" lengthAdjust="spacingAndGlyphs">995</text>
<text x="233.7" y="497.5" font-size="16.5" text-anchor="start" font-weight="normal" textLength="35" lengthAdjust="spacingAndGlyphs">1000</text>
<text x="312.075" y="497.5" font-size="16.5" text-anchor="start" font-weight="normal" textLength="35" lengthAdjust="spacingAndGlyphs">1005</text>
<text x="390.45" y="497.5" font-size="16.5" text-anchor="start" font-weight="normal" textLength="35" lengthAdjust="spacingAndGlyphs">1010</text>
<text x="468.825" y="497.5" font-size="16.5" text-anchor="start" font-weight="normal" textLength="35" lengthAdjust="spacingAndGlyphs">1015</text>
<text x="547.2" y="497.5" font-size="16.5" text-anchor="start" font-weight="normal" textLength="35" lengthAdjust="spacingAndGlyphs">1020</text>
<text x="625.575" y="497.5" font-size="16.5" text-anchor="start" font-weight="normal" textLength="35" lengthAdjust="spacingAndGlyphs">1025</text>
<text x="347.5" y="515" font-size="16.5" text-anchor="start" font-weight="normal" textLength="23.75" lengthAdjust="spacingAndGlyphs">mb</text>
<rect x="78" y="406.5" width="94.5" height="45" fill="#000" stroke="#fff" stroke-width="1"/>
<text x="125.5" y="429.5" font-size="13" text-anchor="middle" font-weight="normal" textLength="60" lengthAdjust="spacingAndGlyphs" stroke="#fff" stroke-width="0.5">10.0 m/s</text>
<path d="M107.3 440H134.5" stroke="#fff" stroke-width="1.8"/><path d="M141.7 440L133.3 437.8V442.2Z" fill="#fff"/>
<text x="54.5" y="392.8" font-size="16.5" textLength="142" lengthAdjust="spacing" stroke="#000" stroke-width="4.2" stroke-linejoin="round" fill="#000">MSL Air Pressure</text>
<text x="54.5" y="392.8" font-size="16.5" textLength="142" lengthAdjust="spacing" stroke="#fff" stroke-width="1.1" stroke-linejoin="round" fill="#fff">MSL Air Pressure</text>
</g></svg></body></html>
